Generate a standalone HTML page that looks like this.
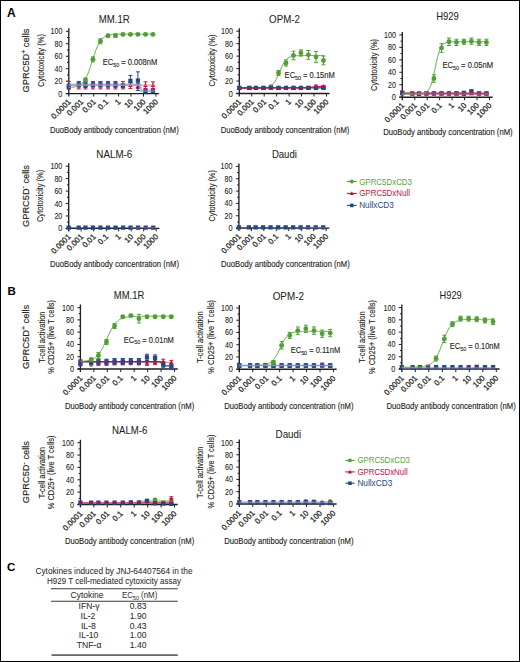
<!DOCTYPE html>
<html><head><meta charset="utf-8"><style>
html,body{margin:0;padding:0;background:#fff;}
body{width:520px;height:662px;overflow:hidden;position:relative;}
#frame{position:absolute;left:0;top:0;width:518px;height:660px;border:1px solid #000;}
svg{position:absolute;left:0;top:0;}
text{font-family:"Liberation Sans", sans-serif;}
</style></head><body>
<div id="frame"></div>
<svg width="520" height="662" viewBox="0 0 520 662">
<path d="M68.80,28.30V96.60M65.80,93.60H159.15" stroke="#231f20" stroke-width="1.35" fill="none"/>
<path d="M65.80,93.60H68.80M65.80,81.14H68.80M65.80,68.68H68.80M65.80,56.22H68.80M65.80,43.76H68.80M65.80,31.30H68.80M67.00,87.37H68.80M67.00,74.91H68.80M67.00,62.45H68.80M67.00,49.99H68.80M67.00,37.53H68.80M81.25,93.60V96.60M93.70,93.60V96.60M106.15,93.60V96.60M118.60,93.60V96.60M131.05,93.60V96.60M143.50,93.60V96.60M155.95,93.60V96.60" stroke="#231f20" stroke-width="1" fill="none"/>
<text x="62.40" y="96.60" font-size="8.7" fill="#231f20" text-anchor="end" stroke="#231f20" stroke-width="0.1" textLength="4.1" lengthAdjust="spacingAndGlyphs" >0</text>
<text x="62.40" y="84.14" font-size="8.7" fill="#231f20" text-anchor="end" stroke="#231f20" stroke-width="0.1" textLength="7.9" lengthAdjust="spacingAndGlyphs" >20</text>
<text x="62.40" y="71.68" font-size="8.7" fill="#231f20" text-anchor="end" stroke="#231f20" stroke-width="0.1" textLength="7.9" lengthAdjust="spacingAndGlyphs" >40</text>
<text x="62.40" y="59.22" font-size="8.7" fill="#231f20" text-anchor="end" stroke="#231f20" stroke-width="0.1" textLength="7.9" lengthAdjust="spacingAndGlyphs" >60</text>
<text x="62.40" y="46.76" font-size="8.7" fill="#231f20" text-anchor="end" stroke="#231f20" stroke-width="0.1" textLength="7.9" lengthAdjust="spacingAndGlyphs" >80</text>
<text x="62.40" y="34.30" font-size="8.7" fill="#231f20" text-anchor="end" stroke="#231f20" stroke-width="0.1" textLength="11.9" lengthAdjust="spacingAndGlyphs" >100</text>
<text transform="translate(71.40,102.40) rotate(-45)" font-size="7.9" fill="#231f20" text-anchor="end" stroke="#231f20" stroke-width="0.25" >0.0001</text>
<text transform="translate(83.85,102.40) rotate(-45)" font-size="7.9" fill="#231f20" text-anchor="end" stroke="#231f20" stroke-width="0.25" >0.001</text>
<text transform="translate(96.30,102.40) rotate(-45)" font-size="7.9" fill="#231f20" text-anchor="end" stroke="#231f20" stroke-width="0.25" >0.01</text>
<text transform="translate(108.75,102.40) rotate(-45)" font-size="7.9" fill="#231f20" text-anchor="end" stroke="#231f20" stroke-width="0.25" >0.1</text>
<text transform="translate(121.20,102.40) rotate(-45)" font-size="7.9" fill="#231f20" text-anchor="end" stroke="#231f20" stroke-width="0.25" >1</text>
<text transform="translate(133.65,102.40) rotate(-45)" font-size="7.9" fill="#231f20" text-anchor="end" stroke="#231f20" stroke-width="0.25" >10</text>
<text transform="translate(146.10,102.40) rotate(-45)" font-size="7.9" fill="#231f20" text-anchor="end" stroke="#231f20" stroke-width="0.25" >100</text>
<text transform="translate(158.55,102.40) rotate(-45)" font-size="7.9" fill="#231f20" text-anchor="end" stroke="#231f20" stroke-width="0.25" >1000</text>
<text x="114.30" y="22.80" font-size="10.2" fill="#231f20" text-anchor="middle" stroke="#231f20" stroke-width="0.06" textLength="31.0" lengthAdjust="spacingAndGlyphs" >MM.1R</text>
<text x="50.00" y="133.40" font-size="9.6" fill="#231f20" text-anchor="start" stroke="#231f20" stroke-width="0.14" textLength="128.8" lengthAdjust="spacingAndGlyphs" >DuoBody antibody concentration (nM)</text>
<text transform="translate(29.20,60.50) rotate(-90)" font-size="9.6" fill="#231f20" text-anchor="middle" stroke="#231f20" stroke-width="0.15" textLength="63.8" lengthAdjust="spacingAndGlyphs" >GPRC5D<tspan font-size="7" dy="-3.2">+</tspan><tspan dy="3.2"> cells</tspan></text>
<text transform="translate(43.50,60.50) rotate(-90)" font-size="9.8" fill="#231f20" text-anchor="middle" stroke="#231f20" stroke-width="0.12" textLength="53" lengthAdjust="spacingAndGlyphs" >Cytotoxicity (%)</text>
<text x="102.70" y="65.20" font-size="8.2" fill="#231f20" stroke="#231f20" stroke-width="0.12" textLength="54.5" lengthAdjust="spacingAndGlyphs">EC<tspan font-size="5.8" dy="1.8">50</tspan><tspan dy="-1.8"> = 0.008nM</tspan></text>
<path d="M68.80,81.45V88.93M66.80,81.45H70.80M66.80,88.93H70.80" stroke="#c0123c" stroke-width="1.0" fill="none"/>
<path d="M68.80,82.79L71.10,86.99L66.50,86.99Z" fill="#c0123c"/>
<path d="M78.76,81.45V88.93M76.76,81.45H80.76M76.76,88.93H80.76" stroke="#c0123c" stroke-width="1.0" fill="none"/>
<path d="M78.76,82.79L81.06,86.99L76.46,86.99Z" fill="#c0123c"/>
<path d="M85.48,81.45V88.93M83.48,81.45H87.48M83.48,88.93H87.48" stroke="#c0123c" stroke-width="1.0" fill="none"/>
<path d="M85.48,82.79L87.78,86.99L83.18,86.99Z" fill="#c0123c"/>
<path d="M92.95,81.45V88.93M90.95,81.45H94.95M90.95,88.93H94.95" stroke="#c0123c" stroke-width="1.0" fill="none"/>
<path d="M92.95,82.79L95.25,86.99L90.65,86.99Z" fill="#c0123c"/>
<path d="M100.42,81.45V88.93M98.42,81.45H102.42M98.42,88.93H102.42" stroke="#c0123c" stroke-width="1.0" fill="none"/>
<path d="M100.42,82.79L102.72,86.99L98.12,86.99Z" fill="#c0123c"/>
<path d="M108.02,81.45V88.93M106.02,81.45H110.02M106.02,88.93H110.02" stroke="#c0123c" stroke-width="1.0" fill="none"/>
<path d="M108.02,82.79L110.32,86.99L105.72,86.99Z" fill="#c0123c"/>
<path d="M115.49,81.45V88.93M113.49,81.45H117.49M113.49,88.93H117.49" stroke="#c0123c" stroke-width="1.0" fill="none"/>
<path d="M115.49,82.79L117.79,86.99L113.19,86.99Z" fill="#c0123c"/>
<path d="M122.96,81.45V88.93M120.96,81.45H124.96M120.96,88.93H124.96" stroke="#c0123c" stroke-width="1.0" fill="none"/>
<path d="M122.96,82.79L125.26,86.99L120.66,86.99Z" fill="#c0123c"/>
<path d="M130.43,82.70V88.62M128.43,82.70H132.43M128.43,88.62H132.43" stroke="#c0123c" stroke-width="1.0" fill="none"/>
<path d="M130.43,82.79L132.73,86.99L128.13,86.99Z" fill="#c0123c"/>
<path d="M137.90,83.63V88.62M135.90,83.63H139.90M135.90,88.62H139.90" stroke="#c0123c" stroke-width="1.0" fill="none"/>
<path d="M137.90,83.72L140.20,87.92L135.60,87.92Z" fill="#c0123c"/>
<path d="M145.49,81.89V88.49M143.49,81.89H147.49M143.49,88.49H147.49" stroke="#c0123c" stroke-width="1.0" fill="none"/>
<path d="M145.49,82.79L147.79,86.99L143.19,86.99Z" fill="#c0123c"/>
<path d="M152.96,81.89V88.49M150.96,81.89H154.96M150.96,88.49H154.96" stroke="#c0123c" stroke-width="1.0" fill="none"/>
<path d="M152.96,82.79L155.26,86.99L150.66,86.99Z" fill="#c0123c"/>
<path d="M68.80,84.01V88.99M66.80,84.01H70.80M66.80,88.99H70.80" stroke="#27468a" stroke-width="1.0" fill="none"/>
<rect x="66.65" y="84.35" width="4.3" height="4.3" fill="#27468a"/>
<path d="M78.76,82.14V87.12M76.76,82.14H80.76M76.76,87.12H80.76" stroke="#27468a" stroke-width="1.0" fill="none"/>
<rect x="76.61" y="82.48" width="4.3" height="4.3" fill="#27468a"/>
<path d="M85.48,82.51V87.49M83.48,82.51H87.48M83.48,87.49H87.48" stroke="#27468a" stroke-width="1.0" fill="none"/>
<rect x="83.33" y="82.85" width="4.3" height="4.3" fill="#27468a"/>
<path d="M92.95,82.14V87.12M90.95,82.14H94.95M90.95,87.12H94.95" stroke="#27468a" stroke-width="1.0" fill="none"/>
<rect x="90.80" y="82.48" width="4.3" height="4.3" fill="#27468a"/>
<path d="M100.42,82.14V87.12M98.42,82.14H102.42M98.42,87.12H102.42" stroke="#27468a" stroke-width="1.0" fill="none"/>
<rect x="98.27" y="82.48" width="4.3" height="4.3" fill="#27468a"/>
<path d="M108.02,82.14V87.12M106.02,82.14H110.02M106.02,87.12H110.02" stroke="#27468a" stroke-width="1.0" fill="none"/>
<rect x="105.87" y="82.48" width="4.3" height="4.3" fill="#27468a"/>
<path d="M115.49,82.39V87.37M113.49,82.39H117.49M113.49,87.37H117.49" stroke="#27468a" stroke-width="1.0" fill="none"/>
<rect x="113.34" y="82.73" width="4.3" height="4.3" fill="#27468a"/>
<path d="M122.96,83.82V87.56M120.96,83.82H124.96M120.96,87.56H124.96" stroke="#27468a" stroke-width="1.0" fill="none"/>
<rect x="120.81" y="83.54" width="4.3" height="4.3" fill="#27468a"/>
<path d="M130.43,75.41V82.76M128.43,75.41H132.43M128.43,82.76H132.43" stroke="#27468a" stroke-width="1.0" fill="none"/>
<rect x="128.28" y="78.74" width="4.3" height="4.3" fill="#27468a"/>
<path d="M137.90,71.86V90.55M135.90,71.86H139.90M135.90,90.55H139.90" stroke="#27468a" stroke-width="1.0" fill="none"/>
<rect x="135.75" y="78.43" width="4.3" height="4.3" fill="#27468a"/>
<path d="M145.49,89.92V92.42M143.49,89.92H147.49M143.49,92.42H147.49" stroke="#27468a" stroke-width="1.0" fill="none"/>
<rect x="143.34" y="89.02" width="4.3" height="4.3" fill="#27468a"/>
<path d="M152.96,89.92V92.42M150.96,89.92H154.96M150.96,92.42H154.96" stroke="#27468a" stroke-width="1.0" fill="none"/>
<rect x="150.81" y="89.02" width="4.3" height="4.3" fill="#27468a"/>
<path d="M68.80,85.19L155.00,85.19" stroke="#d88aa0" stroke-width="1.2" stroke-opacity="0.8" fill="none"/>
<path d="M68.80,84.75L139.80,84.75L141.50,90.80L155.00,90.80" stroke="#8093c8" stroke-width="2.6" stroke-opacity="0.55" fill="none"/>
<path d="M68.80,87.48L70.22,87.40L71.64,87.29L73.06,87.14L74.48,86.92L75.90,86.62L77.32,86.21L78.74,85.64L80.15,84.87L81.57,83.81L82.99,82.41L84.41,80.58L85.83,78.22L87.25,75.30L88.67,71.80L90.09,67.78L91.51,63.40L92.93,58.89L94.35,54.49L95.77,50.42L97.19,46.86L98.61,43.86L100.03,41.45L101.45,39.56L102.86,38.11L104.28,37.02L105.70,36.22L107.12,35.63L108.54,35.20L109.96,34.89L111.38,34.67L112.80,34.51L114.22,34.39L115.64,34.31L117.06,34.25L118.48,34.21L119.90,34.18L121.32,34.16L122.74,34.14L124.16,34.13L125.57,34.12L126.99,34.12L128.41,34.11L129.83,34.11L131.25,34.11L132.67,34.11L134.09,34.11L135.51,34.11L136.93,34.10L138.35,34.10L139.77,34.10L141.19,34.10L142.61,34.10L144.03,34.10L145.45,34.10L146.87,34.10L148.28,34.10L149.70,34.10L151.12,34.10L152.54,34.10L153.96,34.10" stroke="#6db04f" stroke-width="1.0" stroke-opacity="1" fill="none"/>
<path d="M85.48,78.02V81.76M83.48,78.02H87.48M83.48,81.76H87.48" stroke="#4f9f35" stroke-width="1.0" fill="none"/>
<circle cx="85.48" cy="79.89" r="2.45" fill="#4f9f35"/>
<path d="M92.95,56.84V61.83M90.95,56.84H94.95M90.95,61.83H94.95" stroke="#4f9f35" stroke-width="1.0" fill="none"/>
<circle cx="92.95" cy="59.33" r="2.45" fill="#4f9f35"/>
<path d="M100.42,38.78V43.76M98.42,38.78H102.42M98.42,43.76H102.42" stroke="#4f9f35" stroke-width="1.0" fill="none"/>
<circle cx="100.42" cy="41.27" r="2.45" fill="#4f9f35"/>
<path d="M108.02,34.41V36.91M106.02,34.41H110.02M106.02,36.91H110.02" stroke="#4f9f35" stroke-width="1.0" fill="none"/>
<circle cx="108.02" cy="35.66" r="2.45" fill="#4f9f35"/>
<path d="M115.49,33.79V37.53M113.49,33.79H117.49M113.49,37.53H117.49" stroke="#4f9f35" stroke-width="1.0" fill="none"/>
<circle cx="115.49" cy="35.66" r="2.45" fill="#4f9f35"/>
<path d="M122.96,33.79V35.04M120.96,33.79H124.96M120.96,35.04H124.96" stroke="#4f9f35" stroke-width="1.0" fill="none"/>
<circle cx="122.96" cy="34.41" r="2.45" fill="#4f9f35"/>
<path d="M130.43,33.79V35.04M128.43,33.79H132.43M128.43,35.04H132.43" stroke="#4f9f35" stroke-width="1.0" fill="none"/>
<circle cx="130.43" cy="34.41" r="2.45" fill="#4f9f35"/>
<path d="M137.90,33.79V35.04M135.90,33.79H139.90M135.90,35.04H139.90" stroke="#4f9f35" stroke-width="1.0" fill="none"/>
<circle cx="137.90" cy="34.41" r="2.45" fill="#4f9f35"/>
<path d="M145.49,33.79V35.04M143.49,33.79H147.49M143.49,35.04H147.49" stroke="#4f9f35" stroke-width="1.0" fill="none"/>
<circle cx="145.49" cy="34.41" r="2.45" fill="#4f9f35"/>
<path d="M152.96,33.79V35.04M150.96,33.79H154.96M150.96,35.04H154.96" stroke="#4f9f35" stroke-width="1.0" fill="none"/>
<circle cx="152.96" cy="34.41" r="2.45" fill="#4f9f35"/>
<path d="M239.30,28.20V96.50M236.30,93.50H329.65" stroke="#231f20" stroke-width="1.35" fill="none"/>
<path d="M236.30,93.50H239.30M236.30,81.04H239.30M236.30,68.58H239.30M236.30,56.12H239.30M236.30,43.66H239.30M236.30,31.20H239.30M237.50,87.27H239.30M237.50,74.81H239.30M237.50,62.35H239.30M237.50,49.89H239.30M237.50,37.43H239.30M251.75,93.50V96.50M264.20,93.50V96.50M276.65,93.50V96.50M289.10,93.50V96.50M301.55,93.50V96.50M314.00,93.50V96.50M326.45,93.50V96.50" stroke="#231f20" stroke-width="1" fill="none"/>
<text x="232.90" y="96.50" font-size="8.7" fill="#231f20" text-anchor="end" stroke="#231f20" stroke-width="0.1" textLength="4.1" lengthAdjust="spacingAndGlyphs" >0</text>
<text x="232.90" y="84.04" font-size="8.7" fill="#231f20" text-anchor="end" stroke="#231f20" stroke-width="0.1" textLength="7.9" lengthAdjust="spacingAndGlyphs" >20</text>
<text x="232.90" y="71.58" font-size="8.7" fill="#231f20" text-anchor="end" stroke="#231f20" stroke-width="0.1" textLength="7.9" lengthAdjust="spacingAndGlyphs" >40</text>
<text x="232.90" y="59.12" font-size="8.7" fill="#231f20" text-anchor="end" stroke="#231f20" stroke-width="0.1" textLength="7.9" lengthAdjust="spacingAndGlyphs" >60</text>
<text x="232.90" y="46.66" font-size="8.7" fill="#231f20" text-anchor="end" stroke="#231f20" stroke-width="0.1" textLength="7.9" lengthAdjust="spacingAndGlyphs" >80</text>
<text x="232.90" y="34.20" font-size="8.7" fill="#231f20" text-anchor="end" stroke="#231f20" stroke-width="0.1" textLength="11.9" lengthAdjust="spacingAndGlyphs" >100</text>
<text transform="translate(241.90,102.30) rotate(-45)" font-size="7.9" fill="#231f20" text-anchor="end" stroke="#231f20" stroke-width="0.25" >0.0001</text>
<text transform="translate(254.35,102.30) rotate(-45)" font-size="7.9" fill="#231f20" text-anchor="end" stroke="#231f20" stroke-width="0.25" >0.001</text>
<text transform="translate(266.80,102.30) rotate(-45)" font-size="7.9" fill="#231f20" text-anchor="end" stroke="#231f20" stroke-width="0.25" >0.01</text>
<text transform="translate(279.25,102.30) rotate(-45)" font-size="7.9" fill="#231f20" text-anchor="end" stroke="#231f20" stroke-width="0.25" >0.1</text>
<text transform="translate(291.70,102.30) rotate(-45)" font-size="7.9" fill="#231f20" text-anchor="end" stroke="#231f20" stroke-width="0.25" >1</text>
<text transform="translate(304.15,102.30) rotate(-45)" font-size="7.9" fill="#231f20" text-anchor="end" stroke="#231f20" stroke-width="0.25" >10</text>
<text transform="translate(316.60,102.30) rotate(-45)" font-size="7.9" fill="#231f20" text-anchor="end" stroke="#231f20" stroke-width="0.25" >100</text>
<text transform="translate(329.05,102.30) rotate(-45)" font-size="7.9" fill="#231f20" text-anchor="end" stroke="#231f20" stroke-width="0.25" >1000</text>
<text x="284.50" y="22.90" font-size="10.2" fill="#231f20" text-anchor="middle" stroke="#231f20" stroke-width="0.06" textLength="30.8" lengthAdjust="spacingAndGlyphs" >OPM-2</text>
<text x="220.80" y="132.90" font-size="9.6" fill="#231f20" text-anchor="start" stroke="#231f20" stroke-width="0.14" textLength="128.6" lengthAdjust="spacingAndGlyphs" >DuoBody antibody concentration (nM)</text>
<text transform="translate(214.60,60.50) rotate(-90)" font-size="9.8" fill="#231f20" text-anchor="middle" stroke="#231f20" stroke-width="0.12" textLength="52" lengthAdjust="spacingAndGlyphs" >Cytotoxicity (%)</text>
<text x="284.60" y="78.10" font-size="8.2" fill="#231f20" stroke="#231f20" stroke-width="0.12" textLength="50.2" lengthAdjust="spacingAndGlyphs">EC<tspan font-size="5.8" dy="1.8">50</tspan><tspan dy="-1.8"> = 0.15nM</tspan></text>
<path d="M239.30,88.64L240.72,88.64L242.14,88.64L243.56,88.64L244.98,88.64L246.40,88.64L247.82,88.64L249.24,88.63L250.65,88.63L252.07,88.63L253.49,88.62L254.91,88.61L256.33,88.60L257.75,88.57L259.17,88.54L260.59,88.49L262.01,88.42L263.43,88.31L264.85,88.14L266.27,87.90L267.69,87.54L269.11,87.02L270.53,86.27L271.95,85.21L273.36,83.75L274.78,81.80L276.20,79.34L277.62,76.41L279.04,73.15L280.46,69.81L281.88,66.64L283.30,63.86L284.72,61.59L286.14,59.82L287.56,58.51L288.98,57.57L290.40,56.91L291.82,56.45L293.24,56.14L294.66,55.93L296.07,55.79L297.49,55.69L298.91,55.63L300.33,55.58L301.75,55.55L303.17,55.54L304.59,55.52L306.01,55.51L307.43,55.51L308.85,55.50L310.27,55.50L311.69,55.50L313.11,55.50L314.53,55.50L315.95,55.50L317.37,55.50L318.78,55.50L320.20,55.50L321.62,55.50L323.04,55.50L324.46,55.50" stroke="#6db04f" stroke-width="1.0" stroke-opacity="1" fill="none"/>
<path d="M270.92,85.40V87.89M268.92,85.40H272.92M268.92,87.89H272.92" stroke="#4f9f35" stroke-width="1.0" fill="none"/>
<circle cx="270.92" cy="86.65" r="2.45" fill="#4f9f35"/>
<path d="M278.52,70.45V75.43M276.52,70.45H280.52M276.52,75.43H280.52" stroke="#4f9f35" stroke-width="1.0" fill="none"/>
<circle cx="278.52" cy="72.94" r="2.45" fill="#4f9f35"/>
<path d="M285.99,59.86V66.09M283.99,59.86H287.99M283.99,66.09H287.99" stroke="#4f9f35" stroke-width="1.0" fill="none"/>
<circle cx="285.99" cy="62.97" r="2.45" fill="#4f9f35"/>
<path d="M293.46,51.14V59.86M291.46,51.14H295.46M291.46,59.86H295.46" stroke="#4f9f35" stroke-width="1.0" fill="none"/>
<circle cx="293.46" cy="55.50" r="2.45" fill="#4f9f35"/>
<path d="M300.93,49.89V56.12M298.93,49.89H302.93M298.93,56.12H302.93" stroke="#4f9f35" stroke-width="1.0" fill="none"/>
<circle cx="300.93" cy="53.01" r="2.45" fill="#4f9f35"/>
<path d="M308.40,50.51V59.23M306.40,50.51H310.40M306.40,59.23H310.40" stroke="#4f9f35" stroke-width="1.0" fill="none"/>
<circle cx="308.40" cy="54.87" r="2.45" fill="#4f9f35"/>
<path d="M315.99,51.45V62.66M313.99,51.45H317.99M313.99,62.66H317.99" stroke="#4f9f35" stroke-width="1.0" fill="none"/>
<circle cx="315.99" cy="57.05" r="2.45" fill="#4f9f35"/>
<path d="M323.46,56.12V64.84M321.46,56.12H325.46M321.46,64.84H325.46" stroke="#4f9f35" stroke-width="1.0" fill="none"/>
<circle cx="323.46" cy="60.48" r="2.45" fill="#4f9f35"/>
<path d="M239.30,86.65V89.14M237.30,86.65H241.30M237.30,89.14H241.30" stroke="#c0123c" stroke-width="1.0" fill="none"/>
<path d="M239.30,85.49L241.60,89.69L237.00,89.69Z" fill="#c0123c"/>
<path d="M249.26,86.65V89.14M247.26,86.65H251.26M247.26,89.14H251.26" stroke="#c0123c" stroke-width="1.0" fill="none"/>
<path d="M249.26,85.49L251.56,89.69L246.96,89.69Z" fill="#c0123c"/>
<path d="M255.98,86.65V89.14M253.98,86.65H257.98M253.98,89.14H257.98" stroke="#c0123c" stroke-width="1.0" fill="none"/>
<path d="M255.98,85.49L258.28,89.69L253.68,89.69Z" fill="#c0123c"/>
<path d="M263.45,86.65V89.14M261.45,86.65H265.45M261.45,89.14H265.45" stroke="#c0123c" stroke-width="1.0" fill="none"/>
<path d="M263.45,85.49L265.75,89.69L261.15,89.69Z" fill="#c0123c"/>
<path d="M270.92,86.65V89.14M268.92,86.65H272.92M268.92,89.14H272.92" stroke="#c0123c" stroke-width="1.0" fill="none"/>
<path d="M270.92,85.49L273.22,89.69L268.62,89.69Z" fill="#c0123c"/>
<path d="M278.52,86.65V89.14M276.52,86.65H280.52M276.52,89.14H280.52" stroke="#c0123c" stroke-width="1.0" fill="none"/>
<path d="M278.52,85.49L280.82,89.69L276.22,89.69Z" fill="#c0123c"/>
<path d="M285.99,86.65V89.14M283.99,86.65H287.99M283.99,89.14H287.99" stroke="#c0123c" stroke-width="1.0" fill="none"/>
<path d="M285.99,85.49L288.29,89.69L283.69,89.69Z" fill="#c0123c"/>
<path d="M293.46,86.65V89.14M291.46,86.65H295.46M291.46,89.14H295.46" stroke="#c0123c" stroke-width="1.0" fill="none"/>
<path d="M293.46,85.49L295.76,89.69L291.16,89.69Z" fill="#c0123c"/>
<path d="M300.93,86.65V89.14M298.93,86.65H302.93M298.93,89.14H302.93" stroke="#c0123c" stroke-width="1.0" fill="none"/>
<path d="M300.93,85.49L303.23,89.69L298.63,89.69Z" fill="#c0123c"/>
<path d="M308.40,86.65V89.14M306.40,86.65H310.40M306.40,89.14H310.40" stroke="#c0123c" stroke-width="1.0" fill="none"/>
<path d="M308.40,85.49L310.70,89.69L306.10,89.69Z" fill="#c0123c"/>
<path d="M315.99,85.09V87.58M313.99,85.09H317.99M313.99,87.58H317.99" stroke="#c0123c" stroke-width="1.0" fill="none"/>
<path d="M315.99,83.94L318.29,88.14L313.69,88.14Z" fill="#c0123c"/>
<path d="M323.46,85.40V87.89M321.46,85.40H325.46M321.46,87.89H325.46" stroke="#c0123c" stroke-width="1.0" fill="none"/>
<path d="M323.46,84.25L325.76,88.45L321.16,88.45Z" fill="#c0123c"/>
<path d="M239.30,86.65V89.14M237.30,86.65H241.30M237.30,89.14H241.30" stroke="#27468a" stroke-width="1.0" fill="none"/>
<rect x="237.15" y="85.74" width="4.3" height="4.3" fill="#27468a"/>
<path d="M249.26,86.65V89.14M247.26,86.65H251.26M247.26,89.14H251.26" stroke="#27468a" stroke-width="1.0" fill="none"/>
<rect x="247.11" y="85.74" width="4.3" height="4.3" fill="#27468a"/>
<path d="M255.98,86.65V89.14M253.98,86.65H257.98M253.98,89.14H257.98" stroke="#27468a" stroke-width="1.0" fill="none"/>
<rect x="253.83" y="85.74" width="4.3" height="4.3" fill="#27468a"/>
<path d="M263.45,86.65V89.14M261.45,86.65H265.45M261.45,89.14H265.45" stroke="#27468a" stroke-width="1.0" fill="none"/>
<rect x="261.30" y="85.74" width="4.3" height="4.3" fill="#27468a"/>
<path d="M270.92,86.65V89.14M268.92,86.65H272.92M268.92,89.14H272.92" stroke="#27468a" stroke-width="1.0" fill="none"/>
<rect x="268.77" y="85.74" width="4.3" height="4.3" fill="#27468a"/>
<path d="M278.52,86.65V89.14M276.52,86.65H280.52M276.52,89.14H280.52" stroke="#27468a" stroke-width="1.0" fill="none"/>
<rect x="276.37" y="85.74" width="4.3" height="4.3" fill="#27468a"/>
<path d="M285.99,86.65V89.14M283.99,86.65H287.99M283.99,89.14H287.99" stroke="#27468a" stroke-width="1.0" fill="none"/>
<rect x="283.84" y="85.74" width="4.3" height="4.3" fill="#27468a"/>
<path d="M293.46,86.65V89.14M291.46,86.65H295.46M291.46,89.14H295.46" stroke="#27468a" stroke-width="1.0" fill="none"/>
<rect x="291.31" y="85.74" width="4.3" height="4.3" fill="#27468a"/>
<path d="M300.93,86.65V89.14M298.93,86.65H302.93M298.93,89.14H302.93" stroke="#27468a" stroke-width="1.0" fill="none"/>
<rect x="298.78" y="85.74" width="4.3" height="4.3" fill="#27468a"/>
<path d="M308.40,86.65V89.14M306.40,86.65H310.40M306.40,89.14H310.40" stroke="#27468a" stroke-width="1.0" fill="none"/>
<rect x="306.25" y="85.74" width="4.3" height="4.3" fill="#27468a"/>
<path d="M315.99,86.65V89.14M313.99,86.65H317.99M313.99,89.14H317.99" stroke="#27468a" stroke-width="1.0" fill="none"/>
<rect x="313.84" y="85.74" width="4.3" height="4.3" fill="#27468a"/>
<path d="M323.46,86.65V89.14M321.46,86.65H325.46M321.46,89.14H325.46" stroke="#27468a" stroke-width="1.0" fill="none"/>
<rect x="321.31" y="85.74" width="4.3" height="4.3" fill="#27468a"/>
<path d="M239.30,87.89L325.46,87.89" stroke="#27468a" stroke-width="1.2" stroke-opacity="1" fill="none"/>
<path d="M239.30,87.89L300.93,87.89L325.46,86.34" stroke="#c0123c" stroke-width="1.2" stroke-opacity="1" fill="none"/>
<path d="M402.30,31.90V100.20M399.30,97.20H492.65" stroke="#231f20" stroke-width="1.35" fill="none"/>
<path d="M399.30,97.20H402.30M399.30,84.74H402.30M399.30,72.28H402.30M399.30,59.82H402.30M399.30,47.36H402.30M399.30,34.90H402.30M400.50,90.97H402.30M400.50,78.51H402.30M400.50,66.05H402.30M400.50,53.59H402.30M400.50,41.13H402.30M414.75,97.20V100.20M427.20,97.20V100.20M439.65,97.20V100.20M452.10,97.20V100.20M464.55,97.20V100.20M477.00,97.20V100.20M489.45,97.20V100.20" stroke="#231f20" stroke-width="1" fill="none"/>
<text x="395.90" y="100.20" font-size="8.7" fill="#231f20" text-anchor="end" stroke="#231f20" stroke-width="0.1" textLength="4.1" lengthAdjust="spacingAndGlyphs" >0</text>
<text x="395.90" y="87.74" font-size="8.7" fill="#231f20" text-anchor="end" stroke="#231f20" stroke-width="0.1" textLength="7.9" lengthAdjust="spacingAndGlyphs" >20</text>
<text x="395.90" y="75.28" font-size="8.7" fill="#231f20" text-anchor="end" stroke="#231f20" stroke-width="0.1" textLength="7.9" lengthAdjust="spacingAndGlyphs" >40</text>
<text x="395.90" y="62.82" font-size="8.7" fill="#231f20" text-anchor="end" stroke="#231f20" stroke-width="0.1" textLength="7.9" lengthAdjust="spacingAndGlyphs" >60</text>
<text x="395.90" y="50.36" font-size="8.7" fill="#231f20" text-anchor="end" stroke="#231f20" stroke-width="0.1" textLength="7.9" lengthAdjust="spacingAndGlyphs" >80</text>
<text x="395.90" y="37.90" font-size="8.7" fill="#231f20" text-anchor="end" stroke="#231f20" stroke-width="0.1" textLength="11.9" lengthAdjust="spacingAndGlyphs" >100</text>
<text transform="translate(404.90,106.00) rotate(-45)" font-size="7.9" fill="#231f20" text-anchor="end" stroke="#231f20" stroke-width="0.25" >0.0001</text>
<text transform="translate(417.35,106.00) rotate(-45)" font-size="7.9" fill="#231f20" text-anchor="end" stroke="#231f20" stroke-width="0.25" >0.001</text>
<text transform="translate(429.80,106.00) rotate(-45)" font-size="7.9" fill="#231f20" text-anchor="end" stroke="#231f20" stroke-width="0.25" >0.01</text>
<text transform="translate(442.25,106.00) rotate(-45)" font-size="7.9" fill="#231f20" text-anchor="end" stroke="#231f20" stroke-width="0.25" >0.1</text>
<text transform="translate(454.70,106.00) rotate(-45)" font-size="7.9" fill="#231f20" text-anchor="end" stroke="#231f20" stroke-width="0.25" >1</text>
<text transform="translate(467.15,106.00) rotate(-45)" font-size="7.9" fill="#231f20" text-anchor="end" stroke="#231f20" stroke-width="0.25" >10</text>
<text transform="translate(479.60,106.00) rotate(-45)" font-size="7.9" fill="#231f20" text-anchor="end" stroke="#231f20" stroke-width="0.25" >100</text>
<text transform="translate(492.05,106.00) rotate(-45)" font-size="7.9" fill="#231f20" text-anchor="end" stroke="#231f20" stroke-width="0.25" >1000</text>
<text x="447.50" y="19.90" font-size="10.2" fill="#231f20" text-anchor="middle" stroke="#231f20" stroke-width="0.06" textLength="22.6" lengthAdjust="spacingAndGlyphs" >H929</text>
<text x="383.20" y="135.30" font-size="9.6" fill="#231f20" text-anchor="start" stroke="#231f20" stroke-width="0.14" textLength="129.5" lengthAdjust="spacingAndGlyphs" >DuoBody antibody concentration (nM)</text>
<text transform="translate(377.00,64.90) rotate(-90)" font-size="9.8" fill="#231f20" text-anchor="middle" stroke="#231f20" stroke-width="0.12" textLength="52" lengthAdjust="spacingAndGlyphs" >Cytotoxicity (%)</text>
<text x="442.40" y="68.10" font-size="8.2" fill="#231f20" stroke="#231f20" stroke-width="0.12" textLength="50.7" lengthAdjust="spacingAndGlyphs">EC<tspan font-size="5.8" dy="1.8">50</tspan><tspan dy="-1.8"> = 0.05nM</tspan></text>
<path d="M402.30,92.22V94.71M400.30,92.22H404.30M400.30,94.71H404.30" stroke="#c0123c" stroke-width="1.0" fill="none"/>
<path d="M402.30,91.06L404.60,95.26L400.00,95.26Z" fill="#c0123c"/>
<path d="M412.26,92.22V94.71M410.26,92.22H414.26M410.26,94.71H414.26" stroke="#c0123c" stroke-width="1.0" fill="none"/>
<path d="M412.26,91.06L414.56,95.26L409.96,95.26Z" fill="#c0123c"/>
<path d="M418.98,92.84V95.33M416.98,92.84H420.98M416.98,95.33H420.98" stroke="#c0123c" stroke-width="1.0" fill="none"/>
<path d="M418.98,91.69L421.28,95.89L416.68,95.89Z" fill="#c0123c"/>
<path d="M426.45,92.22V94.71M424.45,92.22H428.45M424.45,94.71H428.45" stroke="#c0123c" stroke-width="1.0" fill="none"/>
<path d="M426.45,91.06L428.75,95.26L424.15,95.26Z" fill="#c0123c"/>
<path d="M433.92,92.22V94.71M431.92,92.22H435.92M431.92,94.71H435.92" stroke="#c0123c" stroke-width="1.0" fill="none"/>
<path d="M433.92,91.06L436.22,95.26L431.62,95.26Z" fill="#c0123c"/>
<path d="M441.52,92.22V94.71M439.52,92.22H443.52M439.52,94.71H443.52" stroke="#c0123c" stroke-width="1.0" fill="none"/>
<path d="M441.52,91.06L443.82,95.26L439.22,95.26Z" fill="#c0123c"/>
<path d="M448.99,92.22V94.71M446.99,92.22H450.99M446.99,94.71H450.99" stroke="#c0123c" stroke-width="1.0" fill="none"/>
<path d="M448.99,91.06L451.29,95.26L446.69,95.26Z" fill="#c0123c"/>
<path d="M456.46,92.22V94.71M454.46,92.22H458.46M454.46,94.71H458.46" stroke="#c0123c" stroke-width="1.0" fill="none"/>
<path d="M456.46,91.06L458.76,95.26L454.16,95.26Z" fill="#c0123c"/>
<path d="M463.93,92.84V95.33M461.93,92.84H465.93M461.93,95.33H465.93" stroke="#c0123c" stroke-width="1.0" fill="none"/>
<path d="M463.93,91.69L466.23,95.89L461.63,95.89Z" fill="#c0123c"/>
<path d="M471.40,92.22V94.71M469.40,92.22H473.40M469.40,94.71H473.40" stroke="#c0123c" stroke-width="1.0" fill="none"/>
<path d="M471.40,91.06L473.70,95.26L469.10,95.26Z" fill="#c0123c"/>
<path d="M478.99,92.22V94.71M476.99,92.22H480.99M476.99,94.71H480.99" stroke="#c0123c" stroke-width="1.0" fill="none"/>
<path d="M478.99,91.06L481.29,95.26L476.69,95.26Z" fill="#c0123c"/>
<path d="M486.46,92.22V94.71M484.46,92.22H488.46M484.46,94.71H488.46" stroke="#c0123c" stroke-width="1.0" fill="none"/>
<path d="M486.46,91.06L488.76,95.26L484.16,95.26Z" fill="#c0123c"/>
<path d="M402.30,91.59V94.09M400.30,91.59H404.30M400.30,94.09H404.30" stroke="#27468a" stroke-width="1.0" fill="none"/>
<rect x="400.15" y="90.69" width="4.3" height="4.3" fill="#27468a"/>
<path d="M412.26,92.22V94.71M410.26,92.22H414.26M410.26,94.71H414.26" stroke="#27468a" stroke-width="1.0" fill="none"/>
<rect x="410.11" y="91.31" width="4.3" height="4.3" fill="#27468a"/>
<path d="M418.98,92.22V94.71M416.98,92.22H420.98M416.98,94.71H420.98" stroke="#27468a" stroke-width="1.0" fill="none"/>
<rect x="416.83" y="91.31" width="4.3" height="4.3" fill="#27468a"/>
<path d="M426.45,92.22V94.71M424.45,92.22H428.45M424.45,94.71H428.45" stroke="#27468a" stroke-width="1.0" fill="none"/>
<rect x="424.30" y="91.31" width="4.3" height="4.3" fill="#27468a"/>
<path d="M433.92,92.22V94.71M431.92,92.22H435.92M431.92,94.71H435.92" stroke="#27468a" stroke-width="1.0" fill="none"/>
<rect x="431.77" y="91.31" width="4.3" height="4.3" fill="#27468a"/>
<path d="M441.52,92.22V94.71M439.52,92.22H443.52M439.52,94.71H443.52" stroke="#27468a" stroke-width="1.0" fill="none"/>
<rect x="439.37" y="91.31" width="4.3" height="4.3" fill="#27468a"/>
<path d="M448.99,92.22V94.71M446.99,92.22H450.99M446.99,94.71H450.99" stroke="#27468a" stroke-width="1.0" fill="none"/>
<rect x="446.84" y="91.31" width="4.3" height="4.3" fill="#27468a"/>
<path d="M456.46,92.22V94.71M454.46,92.22H458.46M454.46,94.71H458.46" stroke="#27468a" stroke-width="1.0" fill="none"/>
<rect x="454.31" y="91.31" width="4.3" height="4.3" fill="#27468a"/>
<path d="M463.93,91.59V94.09M461.93,91.59H465.93M461.93,94.09H465.93" stroke="#27468a" stroke-width="1.0" fill="none"/>
<rect x="461.78" y="90.69" width="4.3" height="4.3" fill="#27468a"/>
<path d="M471.40,90.04V92.53M469.40,90.04H473.40M469.40,92.53H473.40" stroke="#27468a" stroke-width="1.0" fill="none"/>
<rect x="469.25" y="89.13" width="4.3" height="4.3" fill="#27468a"/>
<path d="M478.99,92.22V94.71M476.99,92.22H480.99M476.99,94.71H480.99" stroke="#27468a" stroke-width="1.0" fill="none"/>
<rect x="476.84" y="91.31" width="4.3" height="4.3" fill="#27468a"/>
<path d="M486.46,92.22V94.71M484.46,92.22H488.46M484.46,94.71H488.46" stroke="#27468a" stroke-width="1.0" fill="none"/>
<rect x="484.31" y="91.31" width="4.3" height="4.3" fill="#27468a"/>
<path d="M402.30,93.46L488.46,93.46" stroke="#27468a" stroke-width="1.2" stroke-opacity="1" fill="none"/>
<path d="M402.30,93.46L488.46,93.77" stroke="#d04a6e" stroke-width="2.4" stroke-opacity="0.75" fill="none"/>
<path d="M402.30,94.08L403.72,94.08L405.14,94.08L406.56,94.08L407.98,94.08L409.40,94.08L410.82,94.08L412.24,94.07L413.65,94.07L415.07,94.05L416.49,94.03L417.91,94.00L419.33,93.94L420.75,93.84L422.17,93.67L423.59,93.38L425.01,92.91L426.43,92.13L427.85,90.86L429.27,88.85L430.69,85.80L432.11,81.46L433.53,75.78L434.95,69.15L436.36,62.36L437.78,56.27L439.20,51.43L440.62,47.94L442.04,45.60L443.46,44.10L444.88,43.16L446.30,42.60L447.72,42.26L449.14,42.05L450.56,41.93L451.98,41.86L453.40,41.81L454.82,41.79L456.24,41.77L457.66,41.77L459.07,41.76L460.49,41.76L461.91,41.76L463.33,41.75L464.75,41.75L466.17,41.75L467.59,41.75L469.01,41.75L470.43,41.75L471.85,41.75L473.27,41.75L474.69,41.75L476.11,41.75L477.53,41.75L478.95,41.75L480.37,41.75L481.78,41.75L483.20,41.75L484.62,41.75L486.04,41.75L487.46,41.75" stroke="#6db04f" stroke-width="1.0" stroke-opacity="1" fill="none"/>
<path d="M433.92,74.77V82.25M431.92,74.77H435.92M431.92,82.25H435.92" stroke="#4f9f35" stroke-width="1.0" fill="none"/>
<circle cx="433.92" cy="78.51" r="2.45" fill="#4f9f35"/>
<path d="M441.52,43.62V52.34M439.52,43.62H443.52M439.52,52.34H443.52" stroke="#4f9f35" stroke-width="1.0" fill="none"/>
<circle cx="441.52" cy="47.98" r="2.45" fill="#4f9f35"/>
<path d="M448.99,38.02V45.49M446.99,38.02H450.99M446.99,45.49H450.99" stroke="#4f9f35" stroke-width="1.0" fill="none"/>
<circle cx="448.99" cy="41.75" r="2.45" fill="#4f9f35"/>
<path d="M456.46,39.26V45.49M454.46,39.26H458.46M454.46,45.49H458.46" stroke="#4f9f35" stroke-width="1.0" fill="none"/>
<circle cx="456.46" cy="42.38" r="2.45" fill="#4f9f35"/>
<path d="M463.93,39.26V44.25M461.93,39.26H465.93M461.93,44.25H465.93" stroke="#4f9f35" stroke-width="1.0" fill="none"/>
<circle cx="463.93" cy="41.75" r="2.45" fill="#4f9f35"/>
<path d="M471.40,38.02V44.25M469.40,38.02H473.40M469.40,44.25H473.40" stroke="#4f9f35" stroke-width="1.0" fill="none"/>
<circle cx="471.40" cy="41.13" r="2.45" fill="#4f9f35"/>
<path d="M478.99,39.26V45.49M476.99,39.26H480.99M476.99,45.49H480.99" stroke="#4f9f35" stroke-width="1.0" fill="none"/>
<circle cx="478.99" cy="42.38" r="2.45" fill="#4f9f35"/>
<path d="M486.46,39.26V45.49M484.46,39.26H488.46M484.46,45.49H488.46" stroke="#4f9f35" stroke-width="1.0" fill="none"/>
<circle cx="486.46" cy="42.38" r="2.45" fill="#4f9f35"/>
<path d="M68.70,163.20V231.40M65.70,228.40H159.40" stroke="#231f20" stroke-width="1.35" fill="none"/>
<path d="M65.70,228.40H68.70M65.70,215.96H68.70M65.70,203.52H68.70M65.70,191.08H68.70M65.70,178.64H68.70M65.70,166.20H68.70M66.90,222.18H68.70M66.90,209.74H68.70M66.90,197.30H68.70M66.90,184.86H68.70M66.90,172.42H68.70M81.20,228.40V231.40M93.70,228.40V231.40M106.20,228.40V231.40M118.70,228.40V231.40M131.20,228.40V231.40M143.70,228.40V231.40M156.20,228.40V231.40" stroke="#231f20" stroke-width="1" fill="none"/>
<text x="62.30" y="231.40" font-size="8.7" fill="#231f20" text-anchor="end" stroke="#231f20" stroke-width="0.1" textLength="4.1" lengthAdjust="spacingAndGlyphs" >0</text>
<text x="62.30" y="218.96" font-size="8.7" fill="#231f20" text-anchor="end" stroke="#231f20" stroke-width="0.1" textLength="7.9" lengthAdjust="spacingAndGlyphs" >20</text>
<text x="62.30" y="206.52" font-size="8.7" fill="#231f20" text-anchor="end" stroke="#231f20" stroke-width="0.1" textLength="7.9" lengthAdjust="spacingAndGlyphs" >40</text>
<text x="62.30" y="194.08" font-size="8.7" fill="#231f20" text-anchor="end" stroke="#231f20" stroke-width="0.1" textLength="7.9" lengthAdjust="spacingAndGlyphs" >60</text>
<text x="62.30" y="181.64" font-size="8.7" fill="#231f20" text-anchor="end" stroke="#231f20" stroke-width="0.1" textLength="7.9" lengthAdjust="spacingAndGlyphs" >80</text>
<text x="62.30" y="169.20" font-size="8.7" fill="#231f20" text-anchor="end" stroke="#231f20" stroke-width="0.1" textLength="11.9" lengthAdjust="spacingAndGlyphs" >100</text>
<text transform="translate(71.30,237.20) rotate(-45)" font-size="7.9" fill="#231f20" text-anchor="end" stroke="#231f20" stroke-width="0.25" >0.0001</text>
<text transform="translate(83.80,237.20) rotate(-45)" font-size="7.9" fill="#231f20" text-anchor="end" stroke="#231f20" stroke-width="0.25" >0.001</text>
<text transform="translate(96.30,237.20) rotate(-45)" font-size="7.9" fill="#231f20" text-anchor="end" stroke="#231f20" stroke-width="0.25" >0.01</text>
<text transform="translate(108.80,237.20) rotate(-45)" font-size="7.9" fill="#231f20" text-anchor="end" stroke="#231f20" stroke-width="0.25" >0.1</text>
<text transform="translate(121.30,237.20) rotate(-45)" font-size="7.9" fill="#231f20" text-anchor="end" stroke="#231f20" stroke-width="0.25" >1</text>
<text transform="translate(133.80,237.20) rotate(-45)" font-size="7.9" fill="#231f20" text-anchor="end" stroke="#231f20" stroke-width="0.25" >10</text>
<text transform="translate(146.30,237.20) rotate(-45)" font-size="7.9" fill="#231f20" text-anchor="end" stroke="#231f20" stroke-width="0.25" >100</text>
<text transform="translate(158.80,237.20) rotate(-45)" font-size="7.9" fill="#231f20" text-anchor="end" stroke="#231f20" stroke-width="0.25" >1000</text>
<text x="114.30" y="158.00" font-size="10.2" fill="#231f20" text-anchor="middle" stroke="#231f20" stroke-width="0.06" textLength="36.0" lengthAdjust="spacingAndGlyphs" >NALM-6</text>
<text x="49.90" y="267.40" font-size="9.6" fill="#231f20" text-anchor="start" stroke="#231f20" stroke-width="0.14" textLength="129.2" lengthAdjust="spacingAndGlyphs" >DuoBody antibody concentration (nM)</text>
<text transform="translate(28.50,196.00) rotate(-90)" font-size="9.6" fill="#231f20" text-anchor="middle" stroke="#231f20" stroke-width="0.15" textLength="62" lengthAdjust="spacingAndGlyphs" >GPRC5D<tspan font-size="7" dy="-3.2">-</tspan><tspan dy="3.2"> cells</tspan></text>
<text transform="translate(43.20,195.90) rotate(-90)" font-size="9.8" fill="#231f20" text-anchor="middle" stroke="#231f20" stroke-width="0.12" textLength="52.4" lengthAdjust="spacingAndGlyphs" >Cytotoxicity (%)</text>
<path d="M92.95,226.53V227.65M90.95,226.53H94.95M90.95,227.65H94.95" stroke="#c0123c" stroke-width="1.0" fill="none"/>
<path d="M92.95,225.25L95.25,229.45L90.65,229.45Z" fill="#c0123c"/>
<rect x="66.55" y="225.50" width="4.3" height="4.3" fill="#27468a"/>
<rect x="76.55" y="225.50" width="4.3" height="4.3" fill="#27468a"/>
<rect x="83.30" y="225.50" width="4.3" height="4.3" fill="#27468a"/>
<rect x="90.80" y="225.50" width="4.3" height="4.3" fill="#27468a"/>
<rect x="98.30" y="225.50" width="4.3" height="4.3" fill="#27468a"/>
<rect x="105.92" y="225.50" width="4.3" height="4.3" fill="#27468a"/>
<rect x="113.42" y="225.50" width="4.3" height="4.3" fill="#27468a"/>
<rect x="120.92" y="225.50" width="4.3" height="4.3" fill="#27468a"/>
<rect x="128.42" y="225.50" width="4.3" height="4.3" fill="#27468a"/>
<rect x="135.92" y="225.50" width="4.3" height="4.3" fill="#27468a"/>
<rect x="143.55" y="225.50" width="4.3" height="4.3" fill="#27468a"/>
<rect x="151.05" y="225.50" width="4.3" height="4.3" fill="#27468a"/>
<path d="M68.70,227.78L155.20,227.78" stroke="#27468a" stroke-width="1" stroke-opacity="0.6" fill="none"/>
<path d="M130.57,227.78L155.20,227.78" stroke="#d0506f" stroke-width="1.2" stroke-opacity="0.6" fill="none"/>
<path d="M238.90,163.40V231.10M235.90,228.10H329.39" stroke="#231f20" stroke-width="1.35" fill="none"/>
<path d="M235.90,228.10H238.90M235.90,215.76H238.90M235.90,203.42H238.90M235.90,191.08H238.90M235.90,178.74H238.90M235.90,166.40H238.90M237.10,221.93H238.90M237.10,209.59H238.90M237.10,197.25H238.90M237.10,184.91H238.90M237.10,172.57H238.90M251.37,228.10V231.10M263.84,228.10V231.10M276.31,228.10V231.10M288.78,228.10V231.10M301.25,228.10V231.10M313.72,228.10V231.10M326.19,228.10V231.10" stroke="#231f20" stroke-width="1" fill="none"/>
<text x="232.50" y="231.10" font-size="8.7" fill="#231f20" text-anchor="end" stroke="#231f20" stroke-width="0.1" textLength="4.1" lengthAdjust="spacingAndGlyphs" >0</text>
<text x="232.50" y="218.76" font-size="8.7" fill="#231f20" text-anchor="end" stroke="#231f20" stroke-width="0.1" textLength="7.9" lengthAdjust="spacingAndGlyphs" >20</text>
<text x="232.50" y="206.42" font-size="8.7" fill="#231f20" text-anchor="end" stroke="#231f20" stroke-width="0.1" textLength="7.9" lengthAdjust="spacingAndGlyphs" >40</text>
<text x="232.50" y="194.08" font-size="8.7" fill="#231f20" text-anchor="end" stroke="#231f20" stroke-width="0.1" textLength="7.9" lengthAdjust="spacingAndGlyphs" >60</text>
<text x="232.50" y="181.74" font-size="8.7" fill="#231f20" text-anchor="end" stroke="#231f20" stroke-width="0.1" textLength="7.9" lengthAdjust="spacingAndGlyphs" >80</text>
<text x="232.50" y="169.40" font-size="8.7" fill="#231f20" text-anchor="end" stroke="#231f20" stroke-width="0.1" textLength="11.9" lengthAdjust="spacingAndGlyphs" >100</text>
<text transform="translate(241.50,236.90) rotate(-45)" font-size="7.9" fill="#231f20" text-anchor="end" stroke="#231f20" stroke-width="0.25" >0.0001</text>
<text transform="translate(253.97,236.90) rotate(-45)" font-size="7.9" fill="#231f20" text-anchor="end" stroke="#231f20" stroke-width="0.25" >0.001</text>
<text transform="translate(266.44,236.90) rotate(-45)" font-size="7.9" fill="#231f20" text-anchor="end" stroke="#231f20" stroke-width="0.25" >0.01</text>
<text transform="translate(278.91,236.90) rotate(-45)" font-size="7.9" fill="#231f20" text-anchor="end" stroke="#231f20" stroke-width="0.25" >0.1</text>
<text transform="translate(291.38,236.90) rotate(-45)" font-size="7.9" fill="#231f20" text-anchor="end" stroke="#231f20" stroke-width="0.25" >1</text>
<text transform="translate(303.85,236.90) rotate(-45)" font-size="7.9" fill="#231f20" text-anchor="end" stroke="#231f20" stroke-width="0.25" >10</text>
<text transform="translate(316.32,236.90) rotate(-45)" font-size="7.9" fill="#231f20" text-anchor="end" stroke="#231f20" stroke-width="0.25" >100</text>
<text transform="translate(328.79,236.90) rotate(-45)" font-size="7.9" fill="#231f20" text-anchor="end" stroke="#231f20" stroke-width="0.25" >1000</text>
<text x="284.40" y="158.10" font-size="10.2" fill="#231f20" text-anchor="middle" stroke="#231f20" stroke-width="0.06" textLength="25.0" lengthAdjust="spacingAndGlyphs" >Daudi</text>
<text x="221.00" y="267.40" font-size="9.6" fill="#231f20" text-anchor="start" stroke="#231f20" stroke-width="0.14" textLength="128.8" lengthAdjust="spacingAndGlyphs" >DuoBody antibody concentration (nM)</text>
<text transform="translate(214.60,195.80) rotate(-90)" font-size="9.8" fill="#231f20" text-anchor="middle" stroke="#231f20" stroke-width="0.12" textLength="51.4" lengthAdjust="spacingAndGlyphs" >Cytotoxicity (%)</text>
<rect x="236.75" y="225.21" width="4.3" height="4.3" fill="#27468a"/>
<rect x="246.73" y="225.21" width="4.3" height="4.3" fill="#27468a"/>
<rect x="253.46" y="225.21" width="4.3" height="4.3" fill="#27468a"/>
<rect x="260.94" y="225.21" width="4.3" height="4.3" fill="#27468a"/>
<rect x="268.42" y="225.21" width="4.3" height="4.3" fill="#27468a"/>
<rect x="276.03" y="225.21" width="4.3" height="4.3" fill="#27468a"/>
<rect x="283.51" y="225.21" width="4.3" height="4.3" fill="#27468a"/>
<rect x="290.99" y="225.21" width="4.3" height="4.3" fill="#27468a"/>
<rect x="298.48" y="225.21" width="4.3" height="4.3" fill="#27468a"/>
<rect x="305.96" y="225.21" width="4.3" height="4.3" fill="#27468a"/>
<rect x="313.57" y="225.21" width="4.3" height="4.3" fill="#27468a"/>
<rect x="321.05" y="225.21" width="4.3" height="4.3" fill="#27468a"/>
<path d="M238.90,227.48L325.20,227.48" stroke="#27468a" stroke-width="1" stroke-opacity="0.6" fill="none"/>
<path d="M300.63,227.48L325.20,227.48" stroke="#d0506f" stroke-width="1.2" stroke-opacity="0.5" fill="none"/>
<path d="M80.40,304.60V372.00M77.40,369.00H177.75" stroke="#231f20" stroke-width="1.35" fill="none"/>
<path d="M77.40,369.00H80.40M77.40,356.72H80.40M77.40,344.44H80.40M77.40,332.16H80.40M77.40,319.88H80.40M77.40,307.60H80.40M78.60,362.86H80.40M78.60,350.58H80.40M78.60,338.30H80.40M78.60,326.02H80.40M78.60,313.74H80.40M93.85,369.00V372.00M107.30,369.00V372.00M120.75,369.00V372.00M134.20,369.00V372.00M147.65,369.00V372.00M161.10,369.00V372.00M174.55,369.00V372.00" stroke="#231f20" stroke-width="1" fill="none"/>
<text x="74.00" y="372.00" font-size="8.7" fill="#231f20" text-anchor="end" stroke="#231f20" stroke-width="0.1" textLength="4.1" lengthAdjust="spacingAndGlyphs" >0</text>
<text x="74.00" y="359.72" font-size="8.7" fill="#231f20" text-anchor="end" stroke="#231f20" stroke-width="0.1" textLength="7.9" lengthAdjust="spacingAndGlyphs" >20</text>
<text x="74.00" y="347.44" font-size="8.7" fill="#231f20" text-anchor="end" stroke="#231f20" stroke-width="0.1" textLength="7.9" lengthAdjust="spacingAndGlyphs" >40</text>
<text x="74.00" y="335.16" font-size="8.7" fill="#231f20" text-anchor="end" stroke="#231f20" stroke-width="0.1" textLength="7.9" lengthAdjust="spacingAndGlyphs" >60</text>
<text x="74.00" y="322.88" font-size="8.7" fill="#231f20" text-anchor="end" stroke="#231f20" stroke-width="0.1" textLength="7.9" lengthAdjust="spacingAndGlyphs" >80</text>
<text x="74.00" y="310.60" font-size="8.7" fill="#231f20" text-anchor="end" stroke="#231f20" stroke-width="0.1" textLength="11.9" lengthAdjust="spacingAndGlyphs" >100</text>
<text transform="translate(83.00,378.60) rotate(-45)" font-size="7.9" fill="#231f20" text-anchor="end" stroke="#231f20" stroke-width="0.25" >0.0001</text>
<text transform="translate(96.45,378.60) rotate(-45)" font-size="7.9" fill="#231f20" text-anchor="end" stroke="#231f20" stroke-width="0.25" >0.001</text>
<text transform="translate(109.90,378.60) rotate(-45)" font-size="7.9" fill="#231f20" text-anchor="end" stroke="#231f20" stroke-width="0.25" >0.01</text>
<text transform="translate(123.35,378.60) rotate(-45)" font-size="7.9" fill="#231f20" text-anchor="end" stroke="#231f20" stroke-width="0.25" >0.1</text>
<text transform="translate(136.80,378.60) rotate(-45)" font-size="7.9" fill="#231f20" text-anchor="end" stroke="#231f20" stroke-width="0.25" >1</text>
<text transform="translate(150.25,378.60) rotate(-45)" font-size="7.9" fill="#231f20" text-anchor="end" stroke="#231f20" stroke-width="0.25" >10</text>
<text transform="translate(163.70,378.60) rotate(-45)" font-size="7.9" fill="#231f20" text-anchor="end" stroke="#231f20" stroke-width="0.25" >100</text>
<text transform="translate(177.15,378.60) rotate(-45)" font-size="7.9" fill="#231f20" text-anchor="end" stroke="#231f20" stroke-width="0.25" >1000</text>
<text x="129.10" y="299.10" font-size="10.2" fill="#231f20" text-anchor="middle" stroke="#231f20" stroke-width="0.06" textLength="30.6" lengthAdjust="spacingAndGlyphs" >MM.1R</text>
<text x="65.00" y="408.80" font-size="9.6" fill="#231f20" text-anchor="start" stroke="#231f20" stroke-width="0.14" textLength="129.2" lengthAdjust="spacingAndGlyphs" >DuoBody antibody concentration (nM)</text>
<text transform="translate(29.00,336.90) rotate(-90)" font-size="9.6" fill="#231f20" text-anchor="middle" stroke="#231f20" stroke-width="0.15" textLength="64.3" lengthAdjust="spacingAndGlyphs" >GPRC5D<tspan font-size="7" dy="-3.2">+</tspan><tspan dy="3.2"> cells</tspan></text>
<text transform="translate(44.70,337.30) rotate(-90)" font-size="9.4" fill="#231f20" text-anchor="middle" stroke="#231f20" stroke-width="0.12" textLength="51.6" lengthAdjust="spacingAndGlyphs" >T-cell activation</text>
<text transform="translate(54.00,336.90) rotate(-90)" font-size="9.6" fill="#231f20" text-anchor="middle" stroke="#231f20" stroke-width="0.12" textLength="73.8" lengthAdjust="spacingAndGlyphs" >% CD25+ (live T cells)</text>
<text x="123.80" y="342.60" font-size="8.2" fill="#231f20" stroke="#231f20" stroke-width="0.12" textLength="50.1" lengthAdjust="spacingAndGlyphs">EC<tspan font-size="5.8" dy="1.8">50</tspan><tspan dy="-1.8"> = 0.01nM</tspan></text>
<path d="M80.40,360.40V365.32M78.40,360.40H82.40M78.40,365.32H82.40" stroke="#c0123c" stroke-width="1.0" fill="none"/>
<path d="M80.40,360.46L82.70,364.66L78.10,364.66Z" fill="#c0123c"/>
<path d="M91.16,359.18V364.09M89.16,359.18H93.16M89.16,364.09H93.16" stroke="#c0123c" stroke-width="1.0" fill="none"/>
<path d="M91.16,359.23L93.46,363.43L88.86,363.43Z" fill="#c0123c"/>
<path d="M98.42,359.79V364.70M96.42,359.79H100.42M96.42,364.70H100.42" stroke="#c0123c" stroke-width="1.0" fill="none"/>
<path d="M98.42,359.85L100.72,364.05L96.12,364.05Z" fill="#c0123c"/>
<path d="M106.49,359.79V364.70M104.49,359.79H108.49M104.49,364.70H108.49" stroke="#c0123c" stroke-width="1.0" fill="none"/>
<path d="M106.49,359.85L108.79,364.05L104.19,364.05Z" fill="#c0123c"/>
<path d="M114.56,359.79V364.70M112.56,359.79H116.56M112.56,364.70H116.56" stroke="#c0123c" stroke-width="1.0" fill="none"/>
<path d="M114.56,359.85L116.86,364.05L112.26,364.05Z" fill="#c0123c"/>
<path d="M122.77,359.79V364.70M120.77,359.79H124.77M120.77,364.70H124.77" stroke="#c0123c" stroke-width="1.0" fill="none"/>
<path d="M122.77,359.85L125.07,364.05L120.47,364.05Z" fill="#c0123c"/>
<path d="M130.84,359.18V364.09M128.84,359.18H132.84M128.84,364.09H132.84" stroke="#c0123c" stroke-width="1.0" fill="none"/>
<path d="M130.84,359.23L133.14,363.43L128.54,363.43Z" fill="#c0123c"/>
<path d="M138.91,359.79V364.70M136.91,359.79H140.91M136.91,364.70H140.91" stroke="#c0123c" stroke-width="1.0" fill="none"/>
<path d="M138.91,359.85L141.21,364.05L136.61,364.05Z" fill="#c0123c"/>
<path d="M146.98,360.40V365.32M144.98,360.40H148.98M144.98,365.32H148.98" stroke="#c0123c" stroke-width="1.0" fill="none"/>
<path d="M146.98,360.46L149.28,364.66L144.68,364.66Z" fill="#c0123c"/>
<path d="M155.05,359.79V364.70M153.05,359.79H157.05M153.05,364.70H157.05" stroke="#c0123c" stroke-width="1.0" fill="none"/>
<path d="M155.05,359.85L157.35,364.05L152.75,364.05Z" fill="#c0123c"/>
<path d="M163.25,359.18V364.09M161.25,359.18H165.25M161.25,364.09H165.25" stroke="#c0123c" stroke-width="1.0" fill="none"/>
<path d="M163.25,359.23L165.55,363.43L160.95,363.43Z" fill="#c0123c"/>
<path d="M171.32,360.40V365.32M169.32,360.40H173.32M169.32,365.32H173.32" stroke="#c0123c" stroke-width="1.0" fill="none"/>
<path d="M171.32,360.46L173.62,364.66L169.02,364.66Z" fill="#c0123c"/>
<path d="M80.40,359.79V365.93M78.40,359.79H82.40M78.40,365.93H82.40" stroke="#27468a" stroke-width="1.0" fill="none"/>
<rect x="78.25" y="360.71" width="4.3" height="4.3" fill="#27468a"/>
<path d="M91.16,359.79V365.93M89.16,359.79H93.16M89.16,365.93H93.16" stroke="#27468a" stroke-width="1.0" fill="none"/>
<rect x="89.01" y="360.71" width="4.3" height="4.3" fill="#27468a"/>
<path d="M98.42,359.18V365.32M96.42,359.18H100.42M96.42,365.32H100.42" stroke="#27468a" stroke-width="1.0" fill="none"/>
<rect x="96.27" y="360.10" width="4.3" height="4.3" fill="#27468a"/>
<path d="M106.49,359.18V365.32M104.49,359.18H108.49M104.49,365.32H108.49" stroke="#27468a" stroke-width="1.0" fill="none"/>
<rect x="104.34" y="360.10" width="4.3" height="4.3" fill="#27468a"/>
<path d="M114.56,358.56V364.70M112.56,358.56H116.56M112.56,364.70H116.56" stroke="#27468a" stroke-width="1.0" fill="none"/>
<rect x="112.41" y="359.48" width="4.3" height="4.3" fill="#27468a"/>
<path d="M122.77,358.56V364.70M120.77,358.56H124.77M120.77,364.70H124.77" stroke="#27468a" stroke-width="1.0" fill="none"/>
<rect x="120.62" y="359.48" width="4.3" height="4.3" fill="#27468a"/>
<path d="M130.84,358.56V364.70M128.84,358.56H132.84M128.84,364.70H132.84" stroke="#27468a" stroke-width="1.0" fill="none"/>
<rect x="128.69" y="359.48" width="4.3" height="4.3" fill="#27468a"/>
<path d="M138.91,358.56V364.70M136.91,358.56H140.91M136.91,364.70H140.91" stroke="#27468a" stroke-width="1.0" fill="none"/>
<rect x="136.76" y="359.48" width="4.3" height="4.3" fill="#27468a"/>
<path d="M146.98,354.26V360.40M144.98,354.26H148.98M144.98,360.40H148.98" stroke="#27468a" stroke-width="1.0" fill="none"/>
<rect x="144.83" y="355.18" width="4.3" height="4.3" fill="#27468a"/>
<path d="M155.05,354.88V361.02M153.05,354.88H157.05M153.05,361.02H157.05" stroke="#27468a" stroke-width="1.0" fill="none"/>
<rect x="152.90" y="355.80" width="4.3" height="4.3" fill="#27468a"/>
<path d="M163.25,361.63V367.77M161.25,361.63H165.25M161.25,367.77H165.25" stroke="#27468a" stroke-width="1.0" fill="none"/>
<rect x="161.10" y="362.55" width="4.3" height="4.3" fill="#27468a"/>
<path d="M171.32,363.47V369.61M169.32,363.47H173.32M169.32,369.61H173.32" stroke="#27468a" stroke-width="1.0" fill="none"/>
<rect x="169.17" y="364.39" width="4.3" height="4.3" fill="#27468a"/>
<path d="M80.40,362.25L173.32,362.25" stroke="#c0123c" stroke-width="1.0" stroke-opacity="0.6" fill="none"/>
<path d="M80.40,361.63L160.25,361.63L163.25,365.93L173.32,365.93" stroke="#27468a" stroke-width="1.2" stroke-opacity="1" fill="none"/>
<path d="M80.40,361.39L81.93,361.31L83.46,361.20L85.00,361.05L86.53,360.84L88.06,360.57L89.59,360.20L91.12,359.72L92.66,359.08L94.19,358.24L95.72,357.16L97.25,355.77L98.78,354.04L100.32,351.93L101.85,349.42L103.38,346.52L104.91,343.33L106.44,339.94L107.98,336.50L109.51,333.17L111.04,330.09L112.57,327.35L114.10,324.99L115.64,323.04L117.17,321.45L118.70,320.20L120.23,319.22L121.76,318.47L123.30,317.90L124.83,317.46L126.36,317.14L127.89,316.90L129.43,316.72L130.96,316.58L132.49,316.48L134.02,316.41L135.55,316.35L137.09,316.31L138.62,316.28L140.15,316.26L141.68,316.24L143.21,316.23L144.75,316.22L146.28,316.21L147.81,316.21L149.34,316.21L150.87,316.20L152.41,316.20L153.94,316.20L155.47,316.20L157.00,316.20L158.53,316.20L160.07,316.20L161.60,316.20L163.13,316.20L164.66,316.20L166.19,316.20L167.73,316.20L169.26,316.20L170.79,316.20L172.32,316.20" stroke="#6db04f" stroke-width="1.0" stroke-opacity="1" fill="none"/>
<path d="M91.16,357.95V361.63M89.16,357.95H93.16M89.16,361.63H93.16" stroke="#4f9f35" stroke-width="1.0" fill="none"/>
<circle cx="91.16" cy="359.79" r="2.45" fill="#4f9f35"/>
<path d="M98.42,352.42V358.56M96.42,352.42H100.42M96.42,358.56H100.42" stroke="#4f9f35" stroke-width="1.0" fill="none"/>
<circle cx="98.42" cy="355.49" r="2.45" fill="#4f9f35"/>
<path d="M106.49,339.53V344.44M104.49,339.53H108.49M104.49,344.44H108.49" stroke="#4f9f35" stroke-width="1.0" fill="none"/>
<circle cx="106.49" cy="341.98" r="2.45" fill="#4f9f35"/>
<path d="M114.56,323.56V328.48M112.56,323.56H116.56M112.56,328.48H116.56" stroke="#4f9f35" stroke-width="1.0" fill="none"/>
<circle cx="114.56" cy="326.02" r="2.45" fill="#4f9f35"/>
<path d="M122.77,315.58V318.04M120.77,315.58H124.77M120.77,318.04H124.77" stroke="#4f9f35" stroke-width="1.0" fill="none"/>
<circle cx="122.77" cy="316.81" r="2.45" fill="#4f9f35"/>
<path d="M130.84,314.35V316.81M128.84,314.35H132.84M128.84,316.81H132.84" stroke="#4f9f35" stroke-width="1.0" fill="none"/>
<circle cx="130.84" cy="315.58" r="2.45" fill="#4f9f35"/>
<path d="M138.91,314.35V322.95M136.91,314.35H140.91M136.91,322.95H140.91" stroke="#4f9f35" stroke-width="1.0" fill="none"/>
<circle cx="138.91" cy="318.65" r="2.45" fill="#4f9f35"/>
<path d="M146.98,315.58V318.04M144.98,315.58H148.98M144.98,318.04H148.98" stroke="#4f9f35" stroke-width="1.0" fill="none"/>
<circle cx="146.98" cy="316.81" r="2.45" fill="#4f9f35"/>
<path d="M155.05,315.58V318.04M153.05,315.58H157.05M153.05,318.04H157.05" stroke="#4f9f35" stroke-width="1.0" fill="none"/>
<circle cx="155.05" cy="316.81" r="2.45" fill="#4f9f35"/>
<path d="M163.25,315.58V318.04M161.25,315.58H165.25M161.25,318.04H165.25" stroke="#4f9f35" stroke-width="1.0" fill="none"/>
<circle cx="163.25" cy="316.81" r="2.45" fill="#4f9f35"/>
<path d="M171.32,315.58V318.04M169.32,315.58H173.32M169.32,318.04H173.32" stroke="#4f9f35" stroke-width="1.0" fill="none"/>
<circle cx="171.32" cy="316.81" r="2.45" fill="#4f9f35"/>
<path d="M239.30,305.00V372.20M236.30,369.20H336.65" stroke="#231f20" stroke-width="1.35" fill="none"/>
<path d="M236.30,369.20H239.30M236.30,356.96H239.30M236.30,344.72H239.30M236.30,332.48H239.30M236.30,320.24H239.30M236.30,308.00H239.30M237.50,363.08H239.30M237.50,350.84H239.30M237.50,338.60H239.30M237.50,326.36H239.30M237.50,314.12H239.30M252.75,369.20V372.20M266.20,369.20V372.20M279.65,369.20V372.20M293.10,369.20V372.20M306.55,369.20V372.20M320.00,369.20V372.20M333.45,369.20V372.20" stroke="#231f20" stroke-width="1" fill="none"/>
<text x="232.90" y="372.20" font-size="8.7" fill="#231f20" text-anchor="end" stroke="#231f20" stroke-width="0.1" textLength="4.1" lengthAdjust="spacingAndGlyphs" >0</text>
<text x="232.90" y="359.96" font-size="8.7" fill="#231f20" text-anchor="end" stroke="#231f20" stroke-width="0.1" textLength="7.9" lengthAdjust="spacingAndGlyphs" >20</text>
<text x="232.90" y="347.72" font-size="8.7" fill="#231f20" text-anchor="end" stroke="#231f20" stroke-width="0.1" textLength="7.9" lengthAdjust="spacingAndGlyphs" >40</text>
<text x="232.90" y="335.48" font-size="8.7" fill="#231f20" text-anchor="end" stroke="#231f20" stroke-width="0.1" textLength="7.9" lengthAdjust="spacingAndGlyphs" >60</text>
<text x="232.90" y="323.24" font-size="8.7" fill="#231f20" text-anchor="end" stroke="#231f20" stroke-width="0.1" textLength="7.9" lengthAdjust="spacingAndGlyphs" >80</text>
<text x="232.90" y="311.00" font-size="8.7" fill="#231f20" text-anchor="end" stroke="#231f20" stroke-width="0.1" textLength="11.9" lengthAdjust="spacingAndGlyphs" >100</text>
<text transform="translate(241.90,378.80) rotate(-45)" font-size="7.9" fill="#231f20" text-anchor="end" stroke="#231f20" stroke-width="0.25" >0.0001</text>
<text transform="translate(255.35,378.80) rotate(-45)" font-size="7.9" fill="#231f20" text-anchor="end" stroke="#231f20" stroke-width="0.25" >0.001</text>
<text transform="translate(268.80,378.80) rotate(-45)" font-size="7.9" fill="#231f20" text-anchor="end" stroke="#231f20" stroke-width="0.25" >0.01</text>
<text transform="translate(282.25,378.80) rotate(-45)" font-size="7.9" fill="#231f20" text-anchor="end" stroke="#231f20" stroke-width="0.25" >0.1</text>
<text transform="translate(295.70,378.80) rotate(-45)" font-size="7.9" fill="#231f20" text-anchor="end" stroke="#231f20" stroke-width="0.25" >1</text>
<text transform="translate(309.15,378.80) rotate(-45)" font-size="7.9" fill="#231f20" text-anchor="end" stroke="#231f20" stroke-width="0.25" >10</text>
<text transform="translate(322.60,378.80) rotate(-45)" font-size="7.9" fill="#231f20" text-anchor="end" stroke="#231f20" stroke-width="0.25" >100</text>
<text transform="translate(336.05,378.80) rotate(-45)" font-size="7.9" fill="#231f20" text-anchor="end" stroke="#231f20" stroke-width="0.25" >1000</text>
<text x="288.30" y="299.60" font-size="10.2" fill="#231f20" text-anchor="middle" stroke="#231f20" stroke-width="0.06" textLength="31.2" lengthAdjust="spacingAndGlyphs" >OPM-2</text>
<text x="224.20" y="408.80" font-size="9.6" fill="#231f20" text-anchor="start" stroke="#231f20" stroke-width="0.14" textLength="129.3" lengthAdjust="spacingAndGlyphs" >DuoBody antibody concentration (nM)</text>
<text transform="translate(203.00,337.10) rotate(-90)" font-size="9.4" fill="#231f20" text-anchor="middle" stroke="#231f20" stroke-width="0.12" textLength="51.6" lengthAdjust="spacingAndGlyphs" >T-cell activation</text>
<text transform="translate(214.00,336.80) rotate(-90)" font-size="9.6" fill="#231f20" text-anchor="middle" stroke="#231f20" stroke-width="0.12" textLength="73.8" lengthAdjust="spacingAndGlyphs" >% CD25+ (live T cells)</text>
<text x="290.70" y="352.70" font-size="8.2" fill="#231f20" stroke="#231f20" stroke-width="0.12" textLength="49.5" lengthAdjust="spacingAndGlyphs">EC<tspan font-size="5.8" dy="1.8">50</tspan><tspan dy="-1.8"> = 0.11nM</tspan></text>
<path d="M239.30,363.69V367.36M237.30,363.69H241.30M237.30,367.36H241.30" stroke="#c0123c" stroke-width="1.0" fill="none"/>
<path d="M239.30,363.13L241.60,367.33L237.00,367.33Z" fill="#c0123c"/>
<path d="M250.06,363.69V367.36M248.06,363.69H252.06M248.06,367.36H252.06" stroke="#c0123c" stroke-width="1.0" fill="none"/>
<path d="M250.06,363.13L252.36,367.33L247.76,367.33Z" fill="#c0123c"/>
<path d="M257.32,363.69V367.36M255.32,363.69H259.32M255.32,367.36H259.32" stroke="#c0123c" stroke-width="1.0" fill="none"/>
<path d="M257.32,363.13L259.62,367.33L255.02,367.33Z" fill="#c0123c"/>
<path d="M265.39,363.69V367.36M263.39,363.69H267.39M263.39,367.36H267.39" stroke="#c0123c" stroke-width="1.0" fill="none"/>
<path d="M265.39,363.13L267.69,367.33L263.09,367.33Z" fill="#c0123c"/>
<path d="M273.46,363.69V367.36M271.46,363.69H275.46M271.46,367.36H275.46" stroke="#c0123c" stroke-width="1.0" fill="none"/>
<path d="M273.46,363.13L275.76,367.33L271.16,367.33Z" fill="#c0123c"/>
<path d="M281.67,363.69V367.36M279.67,363.69H283.67M279.67,367.36H283.67" stroke="#c0123c" stroke-width="1.0" fill="none"/>
<path d="M281.67,363.13L283.97,367.33L279.37,367.33Z" fill="#c0123c"/>
<path d="M289.74,363.69V367.36M287.74,363.69H291.74M287.74,367.36H291.74" stroke="#c0123c" stroke-width="1.0" fill="none"/>
<path d="M289.74,363.13L292.04,367.33L287.44,367.33Z" fill="#c0123c"/>
<path d="M297.81,363.69V367.36M295.81,363.69H299.81M295.81,367.36H299.81" stroke="#c0123c" stroke-width="1.0" fill="none"/>
<path d="M297.81,363.13L300.11,367.33L295.51,367.33Z" fill="#c0123c"/>
<path d="M305.88,363.69V367.36M303.88,363.69H307.88M303.88,367.36H307.88" stroke="#c0123c" stroke-width="1.0" fill="none"/>
<path d="M305.88,363.13L308.18,367.33L303.58,367.33Z" fill="#c0123c"/>
<path d="M313.95,363.69V367.36M311.95,363.69H315.95M311.95,367.36H315.95" stroke="#c0123c" stroke-width="1.0" fill="none"/>
<path d="M313.95,363.13L316.25,367.33L311.65,367.33Z" fill="#c0123c"/>
<path d="M322.15,363.08V366.75M320.15,363.08H324.15M320.15,366.75H324.15" stroke="#c0123c" stroke-width="1.0" fill="none"/>
<path d="M322.15,362.52L324.45,366.72L319.85,366.72Z" fill="#c0123c"/>
<path d="M330.22,363.69V367.36M328.22,363.69H332.22M328.22,367.36H332.22" stroke="#c0123c" stroke-width="1.0" fill="none"/>
<path d="M330.22,363.13L332.52,367.33L327.92,367.33Z" fill="#c0123c"/>
<path d="M239.30,364.30V366.75M237.30,364.30H241.30M237.30,366.75H241.30" stroke="#27468a" stroke-width="1.0" fill="none"/>
<rect x="237.15" y="363.38" width="4.3" height="4.3" fill="#27468a"/>
<path d="M250.06,364.30V366.75M248.06,364.30H252.06M248.06,366.75H252.06" stroke="#27468a" stroke-width="1.0" fill="none"/>
<rect x="247.91" y="363.38" width="4.3" height="4.3" fill="#27468a"/>
<path d="M257.32,364.30V366.75M255.32,364.30H259.32M255.32,366.75H259.32" stroke="#27468a" stroke-width="1.0" fill="none"/>
<rect x="255.17" y="363.38" width="4.3" height="4.3" fill="#27468a"/>
<path d="M265.39,364.30V366.75M263.39,364.30H267.39M263.39,366.75H267.39" stroke="#27468a" stroke-width="1.0" fill="none"/>
<rect x="263.24" y="363.38" width="4.3" height="4.3" fill="#27468a"/>
<path d="M273.46,364.30V366.75M271.46,364.30H275.46M271.46,366.75H275.46" stroke="#27468a" stroke-width="1.0" fill="none"/>
<rect x="271.31" y="363.38" width="4.3" height="4.3" fill="#27468a"/>
<path d="M281.67,364.30V366.75M279.67,364.30H283.67M279.67,366.75H283.67" stroke="#27468a" stroke-width="1.0" fill="none"/>
<rect x="279.52" y="363.38" width="4.3" height="4.3" fill="#27468a"/>
<path d="M289.74,364.30V366.75M287.74,364.30H291.74M287.74,366.75H291.74" stroke="#27468a" stroke-width="1.0" fill="none"/>
<rect x="287.59" y="363.38" width="4.3" height="4.3" fill="#27468a"/>
<path d="M297.81,364.30V366.75M295.81,364.30H299.81M295.81,366.75H299.81" stroke="#27468a" stroke-width="1.0" fill="none"/>
<rect x="295.66" y="363.38" width="4.3" height="4.3" fill="#27468a"/>
<path d="M305.88,364.30V366.75M303.88,364.30H307.88M303.88,366.75H307.88" stroke="#27468a" stroke-width="1.0" fill="none"/>
<rect x="303.73" y="363.38" width="4.3" height="4.3" fill="#27468a"/>
<path d="M313.95,364.30V366.75M311.95,364.30H315.95M311.95,366.75H315.95" stroke="#27468a" stroke-width="1.0" fill="none"/>
<rect x="311.80" y="363.38" width="4.3" height="4.3" fill="#27468a"/>
<path d="M322.15,364.30V366.75M320.15,364.30H324.15M320.15,366.75H324.15" stroke="#27468a" stroke-width="1.0" fill="none"/>
<rect x="320.00" y="363.38" width="4.3" height="4.3" fill="#27468a"/>
<path d="M330.22,364.30V366.75M328.22,364.30H332.22M328.22,366.75H332.22" stroke="#27468a" stroke-width="1.0" fill="none"/>
<rect x="328.07" y="363.38" width="4.3" height="4.3" fill="#27468a"/>
<path d="M239.30,365.53L332.22,365.53" stroke="#d0506f" stroke-width="1.0" stroke-opacity="0.5" fill="none"/>
<path d="M239.30,365.53L332.22,365.53" stroke="#7f93c4" stroke-width="1.6" stroke-opacity="0.9" fill="none"/>
<path d="M239.30,365.53L240.83,365.53L242.36,365.53L243.90,365.52L245.43,365.52L246.96,365.52L248.49,365.52L250.02,365.51L251.56,365.50L253.09,365.49L254.62,365.47L256.15,365.44L257.68,365.40L259.22,365.34L260.75,365.25L262.28,365.12L263.81,364.94L265.34,364.67L266.88,364.29L268.41,363.74L269.94,362.96L271.47,361.89L273.00,360.45L274.54,358.56L276.07,356.19L277.60,353.38L279.13,350.24L280.66,346.97L282.20,343.80L283.73,340.94L285.26,338.51L286.79,336.56L288.33,335.06L289.86,333.94L291.39,333.13L292.92,332.56L294.45,332.16L295.99,331.87L297.52,331.68L299.05,331.55L300.58,331.45L302.11,331.39L303.65,331.35L305.18,331.32L306.71,331.30L308.24,331.29L309.77,331.28L311.31,331.27L312.84,331.27L314.37,331.26L315.90,331.26L317.43,331.26L318.97,331.26L320.50,331.26L322.03,331.26L323.56,331.26L325.09,331.26L326.63,331.26L328.16,331.26L329.69,331.26L331.22,331.26" stroke="#6db04f" stroke-width="1.0" stroke-opacity="1" fill="none"/>
<path d="M273.46,360.63V364.30M271.46,360.63H275.46M271.46,364.30H275.46" stroke="#4f9f35" stroke-width="1.0" fill="none"/>
<circle cx="273.46" cy="362.47" r="2.45" fill="#4f9f35"/>
<path d="M281.67,341.66V349.00M279.67,341.66H283.67M279.67,349.00H283.67" stroke="#4f9f35" stroke-width="1.0" fill="none"/>
<circle cx="281.67" cy="345.33" r="2.45" fill="#4f9f35"/>
<path d="M289.74,332.48V338.60M287.74,332.48H291.74M287.74,338.60H291.74" stroke="#4f9f35" stroke-width="1.0" fill="none"/>
<circle cx="289.74" cy="335.54" r="2.45" fill="#4f9f35"/>
<path d="M297.81,326.97V334.32M295.81,326.97H299.81M295.81,334.32H299.81" stroke="#4f9f35" stroke-width="1.0" fill="none"/>
<circle cx="297.81" cy="330.64" r="2.45" fill="#4f9f35"/>
<path d="M305.88,325.14V332.48M303.88,325.14H307.88M303.88,332.48H307.88" stroke="#4f9f35" stroke-width="1.0" fill="none"/>
<circle cx="305.88" cy="328.81" r="2.45" fill="#4f9f35"/>
<path d="M313.95,326.97V334.32M311.95,326.97H315.95M311.95,334.32H315.95" stroke="#4f9f35" stroke-width="1.0" fill="none"/>
<circle cx="313.95" cy="330.64" r="2.45" fill="#4f9f35"/>
<path d="M322.15,330.03V337.38M320.15,330.03H324.15M320.15,337.38H324.15" stroke="#4f9f35" stroke-width="1.0" fill="none"/>
<circle cx="322.15" cy="333.70" r="2.45" fill="#4f9f35"/>
<path d="M330.22,329.42V336.76M328.22,329.42H332.22M328.22,336.76H332.22" stroke="#4f9f35" stroke-width="1.0" fill="none"/>
<circle cx="330.22" cy="333.09" r="2.45" fill="#4f9f35"/>
<path d="M401.80,304.60V372.00M398.80,369.00H499.50" stroke="#231f20" stroke-width="1.35" fill="none"/>
<path d="M398.80,369.00H401.80M398.80,356.72H401.80M398.80,344.44H401.80M398.80,332.16H401.80M398.80,319.88H401.80M398.80,307.60H401.80M400.00,362.86H401.80M400.00,350.58H401.80M400.00,338.30H401.80M400.00,326.02H401.80M400.00,313.74H401.80M415.30,369.00V372.00M428.80,369.00V372.00M442.30,369.00V372.00M455.80,369.00V372.00M469.30,369.00V372.00M482.80,369.00V372.00M496.30,369.00V372.00" stroke="#231f20" stroke-width="1" fill="none"/>
<text x="395.40" y="372.00" font-size="8.7" fill="#231f20" text-anchor="end" stroke="#231f20" stroke-width="0.1" textLength="4.1" lengthAdjust="spacingAndGlyphs" >0</text>
<text x="395.40" y="359.72" font-size="8.7" fill="#231f20" text-anchor="end" stroke="#231f20" stroke-width="0.1" textLength="7.9" lengthAdjust="spacingAndGlyphs" >20</text>
<text x="395.40" y="347.44" font-size="8.7" fill="#231f20" text-anchor="end" stroke="#231f20" stroke-width="0.1" textLength="7.9" lengthAdjust="spacingAndGlyphs" >40</text>
<text x="395.40" y="335.16" font-size="8.7" fill="#231f20" text-anchor="end" stroke="#231f20" stroke-width="0.1" textLength="7.9" lengthAdjust="spacingAndGlyphs" >60</text>
<text x="395.40" y="322.88" font-size="8.7" fill="#231f20" text-anchor="end" stroke="#231f20" stroke-width="0.1" textLength="7.9" lengthAdjust="spacingAndGlyphs" >80</text>
<text x="395.40" y="310.60" font-size="8.7" fill="#231f20" text-anchor="end" stroke="#231f20" stroke-width="0.1" textLength="11.9" lengthAdjust="spacingAndGlyphs" >100</text>
<text transform="translate(404.40,378.60) rotate(-45)" font-size="7.9" fill="#231f20" text-anchor="end" stroke="#231f20" stroke-width="0.25" >0.0001</text>
<text transform="translate(417.90,378.60) rotate(-45)" font-size="7.9" fill="#231f20" text-anchor="end" stroke="#231f20" stroke-width="0.25" >0.001</text>
<text transform="translate(431.40,378.60) rotate(-45)" font-size="7.9" fill="#231f20" text-anchor="end" stroke="#231f20" stroke-width="0.25" >0.01</text>
<text transform="translate(444.90,378.60) rotate(-45)" font-size="7.9" fill="#231f20" text-anchor="end" stroke="#231f20" stroke-width="0.25" >0.1</text>
<text transform="translate(458.40,378.60) rotate(-45)" font-size="7.9" fill="#231f20" text-anchor="end" stroke="#231f20" stroke-width="0.25" >1</text>
<text transform="translate(471.90,378.60) rotate(-45)" font-size="7.9" fill="#231f20" text-anchor="end" stroke="#231f20" stroke-width="0.25" >10</text>
<text transform="translate(485.40,378.60) rotate(-45)" font-size="7.9" fill="#231f20" text-anchor="end" stroke="#231f20" stroke-width="0.25" >100</text>
<text transform="translate(498.90,378.60) rotate(-45)" font-size="7.9" fill="#231f20" text-anchor="end" stroke="#231f20" stroke-width="0.25" >1000</text>
<text x="450.65" y="299.40" font-size="10.2" fill="#231f20" text-anchor="middle" stroke="#231f20" stroke-width="0.06" textLength="22.1" lengthAdjust="spacingAndGlyphs" >H929</text>
<text x="386.50" y="408.50" font-size="9.6" fill="#231f20" text-anchor="start" stroke="#231f20" stroke-width="0.14" textLength="129.3" lengthAdjust="spacingAndGlyphs" >DuoBody antibody concentration (nM)</text>
<text transform="translate(365.40,337.10) rotate(-90)" font-size="9.4" fill="#231f20" text-anchor="middle" stroke="#231f20" stroke-width="0.12" textLength="51.6" lengthAdjust="spacingAndGlyphs" >T-cell activation</text>
<text transform="translate(375.30,337.00) rotate(-90)" font-size="9.6" fill="#231f20" text-anchor="middle" stroke="#231f20" stroke-width="0.12" textLength="73.8" lengthAdjust="spacingAndGlyphs" >% CD25+ (live T cells)</text>
<text x="449.80" y="349.00" font-size="8.2" fill="#231f20" stroke="#231f20" stroke-width="0.12" textLength="50.0" lengthAdjust="spacingAndGlyphs">EC<tspan font-size="5.8" dy="1.8">50</tspan><tspan dy="-1.8"> = 0.10nM</tspan></text>
<path d="M427.99,365.07V367.28M425.99,365.07H429.99M425.99,367.28H429.99" stroke="#c0123c" stroke-width="1.0" fill="none"/>
<path d="M427.99,364.88L430.29,369.08L425.69,369.08Z" fill="#c0123c"/>
<path d="M476.73,365.19V367.28M474.73,365.19H478.73M474.73,367.28H478.73" stroke="#c0123c" stroke-width="1.0" fill="none"/>
<path d="M476.73,364.88L479.03,369.08L474.43,369.08Z" fill="#c0123c"/>
<rect x="399.65" y="365.01" width="4.3" height="4.3" fill="#27468a"/>
<rect x="410.45" y="365.01" width="4.3" height="4.3" fill="#27468a"/>
<rect x="417.74" y="365.01" width="4.3" height="4.3" fill="#27468a"/>
<rect x="425.84" y="365.01" width="4.3" height="4.3" fill="#27468a"/>
<rect x="433.94" y="365.01" width="4.3" height="4.3" fill="#27468a"/>
<rect x="442.18" y="365.01" width="4.3" height="4.3" fill="#27468a"/>
<rect x="450.28" y="365.01" width="4.3" height="4.3" fill="#27468a"/>
<rect x="458.38" y="365.01" width="4.3" height="4.3" fill="#27468a"/>
<rect x="466.48" y="365.01" width="4.3" height="4.3" fill="#27468a"/>
<rect x="474.58" y="365.01" width="4.3" height="4.3" fill="#27468a"/>
<rect x="482.81" y="365.01" width="4.3" height="4.3" fill="#27468a"/>
<rect x="490.91" y="365.01" width="4.3" height="4.3" fill="#27468a"/>
<path d="M401.80,367.77L495.06,367.77" stroke="#d0506f" stroke-width="1.0" stroke-opacity="0.3" fill="none"/>
<path d="M401.80,367.77L495.06,367.77" stroke="#8093c8" stroke-width="1.4" stroke-opacity="0.5" fill="none"/>
<path d="M401.80,367.15L403.34,367.15L404.88,367.15L406.41,367.14L407.95,367.14L409.49,367.13L411.03,367.11L412.56,367.10L414.10,367.07L415.64,367.04L417.18,366.99L418.71,366.92L420.25,366.82L421.79,366.68L423.33,366.49L424.87,366.23L426.40,365.86L427.94,365.35L429.48,364.65L431.02,363.70L432.55,362.43L434.09,360.76L435.63,358.61L437.17,355.95L438.70,352.75L440.24,349.10L441.78,345.13L443.32,341.04L444.85,337.09L446.39,333.46L447.93,330.30L449.47,327.66L451.01,325.55L452.54,323.91L454.08,322.66L455.62,321.73L457.16,321.04L458.69,320.54L460.23,320.18L461.77,319.92L463.31,319.73L464.84,319.60L466.38,319.50L467.92,319.43L469.46,319.39L471.00,319.35L472.53,319.33L474.07,319.31L475.61,319.30L477.15,319.29L478.68,319.28L480.22,319.28L481.76,319.27L483.30,319.27L484.83,319.27L486.37,319.27L487.91,319.27L489.45,319.27L490.98,319.27L492.52,319.27L494.06,319.27" stroke="#6db04f" stroke-width="1.0" stroke-opacity="1" fill="none"/>
<path d="M436.09,356.11V361.02M434.09,356.11H438.09M434.09,361.02H438.09" stroke="#4f9f35" stroke-width="1.0" fill="none"/>
<circle cx="436.09" cy="358.56" r="2.45" fill="#4f9f35"/>
<path d="M444.32,335.23V342.60M442.32,335.23H446.32M442.32,342.60H446.32" stroke="#4f9f35" stroke-width="1.0" fill="none"/>
<circle cx="444.32" cy="338.91" r="2.45" fill="#4f9f35"/>
<path d="M452.43,321.72V326.63M450.43,321.72H454.43M450.43,326.63H454.43" stroke="#4f9f35" stroke-width="1.0" fill="none"/>
<circle cx="452.43" cy="324.18" r="2.45" fill="#4f9f35"/>
<path d="M460.52,316.20V321.11M458.52,316.20H462.52M458.52,321.11H462.52" stroke="#4f9f35" stroke-width="1.0" fill="none"/>
<circle cx="460.52" cy="318.65" r="2.45" fill="#4f9f35"/>
<path d="M468.62,316.20V321.11M466.62,316.20H470.62M466.62,321.11H470.62" stroke="#4f9f35" stroke-width="1.0" fill="none"/>
<circle cx="468.62" cy="318.65" r="2.45" fill="#4f9f35"/>
<path d="M476.73,316.81V321.72M474.73,316.81H478.73M474.73,321.72H478.73" stroke="#4f9f35" stroke-width="1.0" fill="none"/>
<circle cx="476.73" cy="319.27" r="2.45" fill="#4f9f35"/>
<path d="M484.96,318.04V322.95M482.96,318.04H486.96M482.96,322.95H486.96" stroke="#4f9f35" stroke-width="1.0" fill="none"/>
<circle cx="484.96" cy="320.49" r="2.45" fill="#4f9f35"/>
<path d="M493.06,318.96V324.49M491.06,318.96H495.06M491.06,324.49H495.06" stroke="#4f9f35" stroke-width="1.0" fill="none"/>
<circle cx="493.06" cy="321.72" r="2.45" fill="#4f9f35"/>
<path d="M80.40,439.70V507.50M77.40,504.50H177.75" stroke="#231f20" stroke-width="1.35" fill="none"/>
<path d="M77.40,504.50H80.40M77.40,492.14H80.40M77.40,479.78H80.40M77.40,467.42H80.40M77.40,455.06H80.40M77.40,442.70H80.40M78.60,498.32H80.40M78.60,485.96H80.40M78.60,473.60H80.40M78.60,461.24H80.40M78.60,448.88H80.40M93.85,504.50V507.50M107.30,504.50V507.50M120.75,504.50V507.50M134.20,504.50V507.50M147.65,504.50V507.50M161.10,504.50V507.50M174.55,504.50V507.50" stroke="#231f20" stroke-width="1" fill="none"/>
<text x="74.00" y="507.50" font-size="8.7" fill="#231f20" text-anchor="end" stroke="#231f20" stroke-width="0.1" textLength="4.1" lengthAdjust="spacingAndGlyphs" >0</text>
<text x="74.00" y="495.14" font-size="8.7" fill="#231f20" text-anchor="end" stroke="#231f20" stroke-width="0.1" textLength="7.9" lengthAdjust="spacingAndGlyphs" >20</text>
<text x="74.00" y="482.78" font-size="8.7" fill="#231f20" text-anchor="end" stroke="#231f20" stroke-width="0.1" textLength="7.9" lengthAdjust="spacingAndGlyphs" >40</text>
<text x="74.00" y="470.42" font-size="8.7" fill="#231f20" text-anchor="end" stroke="#231f20" stroke-width="0.1" textLength="7.9" lengthAdjust="spacingAndGlyphs" >60</text>
<text x="74.00" y="458.06" font-size="8.7" fill="#231f20" text-anchor="end" stroke="#231f20" stroke-width="0.1" textLength="7.9" lengthAdjust="spacingAndGlyphs" >80</text>
<text x="74.00" y="445.70" font-size="8.7" fill="#231f20" text-anchor="end" stroke="#231f20" stroke-width="0.1" textLength="11.9" lengthAdjust="spacingAndGlyphs" >100</text>
<text transform="translate(83.00,514.10) rotate(-45)" font-size="7.9" fill="#231f20" text-anchor="end" stroke="#231f20" stroke-width="0.25" >0.0001</text>
<text transform="translate(96.45,514.10) rotate(-45)" font-size="7.9" fill="#231f20" text-anchor="end" stroke="#231f20" stroke-width="0.25" >0.001</text>
<text transform="translate(109.90,514.10) rotate(-45)" font-size="7.9" fill="#231f20" text-anchor="end" stroke="#231f20" stroke-width="0.25" >0.01</text>
<text transform="translate(123.35,514.10) rotate(-45)" font-size="7.9" fill="#231f20" text-anchor="end" stroke="#231f20" stroke-width="0.25" >0.1</text>
<text transform="translate(136.80,514.10) rotate(-45)" font-size="7.9" fill="#231f20" text-anchor="end" stroke="#231f20" stroke-width="0.25" >1</text>
<text transform="translate(150.25,514.10) rotate(-45)" font-size="7.9" fill="#231f20" text-anchor="end" stroke="#231f20" stroke-width="0.25" >10</text>
<text transform="translate(163.70,514.10) rotate(-45)" font-size="7.9" fill="#231f20" text-anchor="end" stroke="#231f20" stroke-width="0.25" >100</text>
<text transform="translate(177.15,514.10) rotate(-45)" font-size="7.9" fill="#231f20" text-anchor="end" stroke="#231f20" stroke-width="0.25" >1000</text>
<text x="129.70" y="434.10" font-size="10.2" fill="#231f20" text-anchor="middle" stroke="#231f20" stroke-width="0.06" textLength="35.2" lengthAdjust="spacingAndGlyphs" >NALM-6</text>
<text x="65.00" y="543.50" font-size="9.6" fill="#231f20" text-anchor="start" stroke="#231f20" stroke-width="0.14" textLength="129.2" lengthAdjust="spacingAndGlyphs" >DuoBody antibody concentration (nM)</text>
<text transform="translate(29.00,472.10) rotate(-90)" font-size="9.6" fill="#231f20" text-anchor="middle" stroke="#231f20" stroke-width="0.15" textLength="62.2" lengthAdjust="spacingAndGlyphs" >GPRC5D<tspan font-size="7" dy="-3.2">-</tspan><tspan dy="3.2"> cells</tspan></text>
<text transform="translate(44.70,472.80) rotate(-90)" font-size="9.4" fill="#231f20" text-anchor="middle" stroke="#231f20" stroke-width="0.12" textLength="51.6" lengthAdjust="spacingAndGlyphs" >T-cell activation</text>
<text transform="translate(54.00,472.40) rotate(-90)" font-size="9.6" fill="#231f20" text-anchor="middle" stroke="#231f20" stroke-width="0.12" textLength="73.8" lengthAdjust="spacingAndGlyphs" >% CD25+ (live T cells)</text>
<path d="M138.91,501.10L172.32,501.10" stroke="#6db04f" stroke-width="1.0" stroke-opacity="1" fill="none"/>
<circle cx="146.98" cy="501.41" r="2.45" fill="#4f9f35"/>
<circle cx="155.05" cy="499.87" r="2.45" fill="#4f9f35"/>
<circle cx="163.25" cy="502.65" r="2.45" fill="#4f9f35"/>
<circle cx="171.32" cy="502.03" r="2.45" fill="#4f9f35"/>
<path d="M171.32,496.77V498.63M169.32,496.77H173.32M169.32,498.63H173.32" stroke="#c0123c" stroke-width="1.0" fill="none"/>
<path d="M171.32,496.23L173.62,500.43L169.02,500.43Z" fill="#c0123c"/>
<rect x="78.25" y="500.50" width="4.3" height="4.3" fill="#27468a"/>
<rect x="89.01" y="500.50" width="4.3" height="4.3" fill="#27468a"/>
<rect x="96.27" y="500.50" width="4.3" height="4.3" fill="#27468a"/>
<rect x="104.34" y="500.50" width="4.3" height="4.3" fill="#27468a"/>
<rect x="112.41" y="500.50" width="4.3" height="4.3" fill="#27468a"/>
<rect x="120.62" y="500.50" width="4.3" height="4.3" fill="#27468a"/>
<rect x="128.69" y="500.19" width="4.3" height="4.3" fill="#27468a"/>
<rect x="136.76" y="500.31" width="4.3" height="4.3" fill="#27468a"/>
<rect x="144.83" y="498.64" width="4.3" height="4.3" fill="#27468a"/>
<rect x="152.90" y="501.11" width="4.3" height="4.3" fill="#27468a"/>
<rect x="161.10" y="501.42" width="4.3" height="4.3" fill="#27468a"/>
<rect x="169.17" y="501.73" width="4.3" height="4.3" fill="#27468a"/>
<path d="M80.40,502.95L173.32,502.95" stroke="#27468a" stroke-width="1.0" stroke-opacity="0.5" fill="none"/>
<path d="M80.40,502.95L173.32,502.95" stroke="#c0123c" stroke-width="1.8" stroke-opacity="0.55" fill="none"/>
<path d="M239.30,439.50V507.00M236.30,504.00H336.65" stroke="#231f20" stroke-width="1.35" fill="none"/>
<path d="M236.30,504.00H239.30M236.30,491.70H239.30M236.30,479.40H239.30M236.30,467.10H239.30M236.30,454.80H239.30M236.30,442.50H239.30M237.50,497.85H239.30M237.50,485.55H239.30M237.50,473.25H239.30M237.50,460.95H239.30M237.50,448.65H239.30M252.75,504.00V507.00M266.20,504.00V507.00M279.65,504.00V507.00M293.10,504.00V507.00M306.55,504.00V507.00M320.00,504.00V507.00M333.45,504.00V507.00" stroke="#231f20" stroke-width="1" fill="none"/>
<text x="232.90" y="507.00" font-size="8.7" fill="#231f20" text-anchor="end" stroke="#231f20" stroke-width="0.1" textLength="4.1" lengthAdjust="spacingAndGlyphs" >0</text>
<text x="232.90" y="494.70" font-size="8.7" fill="#231f20" text-anchor="end" stroke="#231f20" stroke-width="0.1" textLength="7.9" lengthAdjust="spacingAndGlyphs" >20</text>
<text x="232.90" y="482.40" font-size="8.7" fill="#231f20" text-anchor="end" stroke="#231f20" stroke-width="0.1" textLength="7.9" lengthAdjust="spacingAndGlyphs" >40</text>
<text x="232.90" y="470.10" font-size="8.7" fill="#231f20" text-anchor="end" stroke="#231f20" stroke-width="0.1" textLength="7.9" lengthAdjust="spacingAndGlyphs" >60</text>
<text x="232.90" y="457.80" font-size="8.7" fill="#231f20" text-anchor="end" stroke="#231f20" stroke-width="0.1" textLength="7.9" lengthAdjust="spacingAndGlyphs" >80</text>
<text x="232.90" y="445.50" font-size="8.7" fill="#231f20" text-anchor="end" stroke="#231f20" stroke-width="0.1" textLength="11.9" lengthAdjust="spacingAndGlyphs" >100</text>
<text transform="translate(241.90,513.60) rotate(-45)" font-size="7.9" fill="#231f20" text-anchor="end" stroke="#231f20" stroke-width="0.25" >0.0001</text>
<text transform="translate(255.35,513.60) rotate(-45)" font-size="7.9" fill="#231f20" text-anchor="end" stroke="#231f20" stroke-width="0.25" >0.001</text>
<text transform="translate(268.80,513.60) rotate(-45)" font-size="7.9" fill="#231f20" text-anchor="end" stroke="#231f20" stroke-width="0.25" >0.01</text>
<text transform="translate(282.25,513.60) rotate(-45)" font-size="7.9" fill="#231f20" text-anchor="end" stroke="#231f20" stroke-width="0.25" >0.1</text>
<text transform="translate(295.70,513.60) rotate(-45)" font-size="7.9" fill="#231f20" text-anchor="end" stroke="#231f20" stroke-width="0.25" >1</text>
<text transform="translate(309.15,513.60) rotate(-45)" font-size="7.9" fill="#231f20" text-anchor="end" stroke="#231f20" stroke-width="0.25" >10</text>
<text transform="translate(322.60,513.60) rotate(-45)" font-size="7.9" fill="#231f20" text-anchor="end" stroke="#231f20" stroke-width="0.25" >100</text>
<text transform="translate(336.05,513.60) rotate(-45)" font-size="7.9" fill="#231f20" text-anchor="end" stroke="#231f20" stroke-width="0.25" >1000</text>
<text x="288.35" y="438.00" font-size="10.2" fill="#231f20" text-anchor="middle" stroke="#231f20" stroke-width="0.06" textLength="25.5" lengthAdjust="spacingAndGlyphs" >Daudi</text>
<text x="224.20" y="543.50" font-size="9.6" fill="#231f20" text-anchor="start" stroke="#231f20" stroke-width="0.14" textLength="129.3" lengthAdjust="spacingAndGlyphs" >DuoBody antibody concentration (nM)</text>
<text transform="translate(203.00,472.50) rotate(-90)" font-size="9.4" fill="#231f20" text-anchor="middle" stroke="#231f20" stroke-width="0.12" textLength="51.6" lengthAdjust="spacingAndGlyphs" >T-cell activation</text>
<text transform="translate(214.00,471.50) rotate(-90)" font-size="9.6" fill="#231f20" text-anchor="middle" stroke="#231f20" stroke-width="0.12" textLength="73.8" lengthAdjust="spacingAndGlyphs" >% CD25+ (live T cells)</text>
<circle cx="305.88" cy="501.42" r="2.45" fill="#4f9f35"/>
<circle cx="313.95" cy="501.79" r="2.45" fill="#4f9f35"/>
<circle cx="330.22" cy="501.79" r="2.45" fill="#4f9f35"/>
<path d="M322.15,499.63L324.45,503.83L319.85,503.83Z" fill="#c0123c"/>
<path d="M330.22,499.26L332.52,503.46L327.92,503.46Z" fill="#c0123c"/>
<rect x="237.15" y="500.00" width="4.3" height="4.3" fill="#27468a"/>
<rect x="247.91" y="500.00" width="4.3" height="4.3" fill="#27468a"/>
<rect x="255.17" y="500.00" width="4.3" height="4.3" fill="#27468a"/>
<rect x="263.24" y="500.00" width="4.3" height="4.3" fill="#27468a"/>
<rect x="271.31" y="500.00" width="4.3" height="4.3" fill="#27468a"/>
<rect x="279.52" y="500.00" width="4.3" height="4.3" fill="#27468a"/>
<rect x="287.59" y="500.00" width="4.3" height="4.3" fill="#27468a"/>
<rect x="295.66" y="500.00" width="4.3" height="4.3" fill="#27468a"/>
<rect x="303.73" y="500.00" width="4.3" height="4.3" fill="#27468a"/>
<rect x="311.80" y="500.00" width="4.3" height="4.3" fill="#27468a"/>
<rect x="320.00" y="500.93" width="4.3" height="4.3" fill="#27468a"/>
<rect x="328.07" y="500.93" width="4.3" height="4.3" fill="#27468a"/>
<path d="M239.30,502.77L332.22,502.77" stroke="#d0506f" stroke-width="1.0" stroke-opacity="0.3" fill="none"/>
<path d="M239.30,502.03L332.22,502.03" stroke="#7f93c4" stroke-width="1.3" stroke-opacity="0.9" fill="none"/>
<text x="7.00" y="16.90" font-size="12.0" fill="#000" text-anchor="start" font-weight="bold" >A</text>
<text x="7.60" y="294.80" font-size="11.5" fill="#000" text-anchor="start" font-weight="bold" >B</text>
<text x="7.00" y="571.20" font-size="11.5" fill="#000" text-anchor="start" font-weight="bold" >C</text>
<path d="M346.90,181.50H356.70" stroke="#4f9f35" stroke-width="1.1"/>
<circle cx="351.80" cy="181.50" r="1.9" fill="#4f9f35"/>
<text x="359.20" y="184.50" font-size="8.4" fill="#5fa843" text-anchor="start" stroke="#5fa843" stroke-width="0.05" textLength="52.8" lengthAdjust="spacingAndGlyphs" >GPRC5DxCD3</text>
<path d="M346.90,193.40H356.70" stroke="#c0123c" stroke-width="1.1"/>
<path d="M351.80,191.20L353.90,195.00L349.70,195.00Z" fill="#c0123c"/>
<text x="359.20" y="196.40" font-size="8.4" fill="#bf1a45" text-anchor="start" stroke="#bf1a45" stroke-width="0.05" textLength="50.8" lengthAdjust="spacingAndGlyphs" >GPRC5DxNull</text>
<path d="M346.90,205.40H356.70" stroke="#27468a" stroke-width="1.1"/>
<rect x="350.00" y="203.60" width="3.6" height="3.6" fill="#27468a"/>
<text x="359.20" y="208.40" font-size="8.4" fill="#2f4e8e" text-anchor="start" stroke="#2f4e8e" stroke-width="0.05" textLength="34.6" lengthAdjust="spacingAndGlyphs" >NullxCD3</text>
<path d="M345.30,460.40H354.60" stroke="#4f9f35" stroke-width="1.1"/>
<circle cx="349.95" cy="460.40" r="1.9" fill="#4f9f35"/>
<text x="357.40" y="463.40" font-size="8.4" fill="#5fa843" text-anchor="start" stroke="#5fa843" stroke-width="0.05" textLength="52.6" lengthAdjust="spacingAndGlyphs" >GPRC5DxCD3</text>
<path d="M345.30,471.90H354.60" stroke="#c0123c" stroke-width="1.1"/>
<path d="M349.95,469.70L352.05,473.50L347.85,473.50Z" fill="#c0123c"/>
<text x="357.40" y="474.90" font-size="8.4" fill="#bf1a45" text-anchor="start" stroke="#bf1a45" stroke-width="0.05" textLength="50.3" lengthAdjust="spacingAndGlyphs" >GPRC5DxNull</text>
<path d="M345.30,483.20H354.60" stroke="#27468a" stroke-width="1.1"/>
<rect x="348.15" y="481.40" width="3.6" height="3.6" fill="#27468a"/>
<text x="357.40" y="486.20" font-size="8.4" fill="#2f4e8e" text-anchor="start" stroke="#2f4e8e" stroke-width="0.05" textLength="34.9" lengthAdjust="spacingAndGlyphs" >NullxCD3</text>
<text x="35.50" y="574.20" font-size="8.8" fill="#2b2b2b" text-anchor="start" stroke="#2b2b2b" stroke-width="0.05" textLength="157" lengthAdjust="spacingAndGlyphs" >Cytokines induced by JNJ-64407564 in the</text>
<text x="46.90" y="584.00" font-size="8.8" fill="#2b2b2b" text-anchor="start" stroke="#2b2b2b" stroke-width="0.05" textLength="134.1" lengthAdjust="spacingAndGlyphs" >H929 T cell-mediated cytoxicity assay</text>
<path d="M50.9,588.7H177.8M50.9,601.2H177.8" stroke="#3a3a3a" stroke-width="1.1"/>
<path d="M51.5,655.2H177.8" stroke="#666" stroke-width="1.7"/>
<text x="70.60" y="598.20" font-size="8.8" fill="#2b2b2b" text-anchor="start" stroke="#2b2b2b" stroke-width="0.05" textLength="32.8" lengthAdjust="spacingAndGlyphs" >Cytokine</text>
<text x="122.0" y="598.2" font-size="8.8" fill="#2b2b2b" textLength="35.3" lengthAdjust="spacingAndGlyphs">EC<tspan font-size="6" dy="1.8">50</tspan><tspan dy="-1.8"> (nM)</tspan></text>
<text x="89.10" y="609.20" font-size="8.6" fill="#2b2b2b" text-anchor="middle" stroke="#2b2b2b" stroke-width="0.05" >IFN-γ</text>
<text x="138.20" y="609.20" font-size="8.6" fill="#2b2b2b" text-anchor="middle" stroke="#2b2b2b" stroke-width="0.05" >0.83</text>
<text x="88.00" y="618.88" font-size="8.6" fill="#2b2b2b" text-anchor="middle" stroke="#2b2b2b" stroke-width="0.05" >IL-2</text>
<text x="138.20" y="618.88" font-size="8.6" fill="#2b2b2b" text-anchor="middle" stroke="#2b2b2b" stroke-width="0.05" >1.90</text>
<text x="88.30" y="628.56" font-size="8.6" fill="#2b2b2b" text-anchor="middle" stroke="#2b2b2b" stroke-width="0.05" >IL-8</text>
<text x="138.20" y="628.56" font-size="8.6" fill="#2b2b2b" text-anchor="middle" stroke="#2b2b2b" stroke-width="0.05" >0.43</text>
<text x="88.60" y="638.24" font-size="8.6" fill="#2b2b2b" text-anchor="middle" stroke="#2b2b2b" stroke-width="0.05" >IL-10</text>
<text x="138.20" y="638.24" font-size="8.6" fill="#2b2b2b" text-anchor="middle" stroke="#2b2b2b" stroke-width="0.05" >1.00</text>
<text x="89.10" y="647.92" font-size="8.6" fill="#2b2b2b" text-anchor="middle" stroke="#2b2b2b" stroke-width="0.05" >TNF-α</text>
<text x="138.20" y="647.92" font-size="8.6" fill="#2b2b2b" text-anchor="middle" stroke="#2b2b2b" stroke-width="0.05" >1.40</text>
</svg>
</body></html>
